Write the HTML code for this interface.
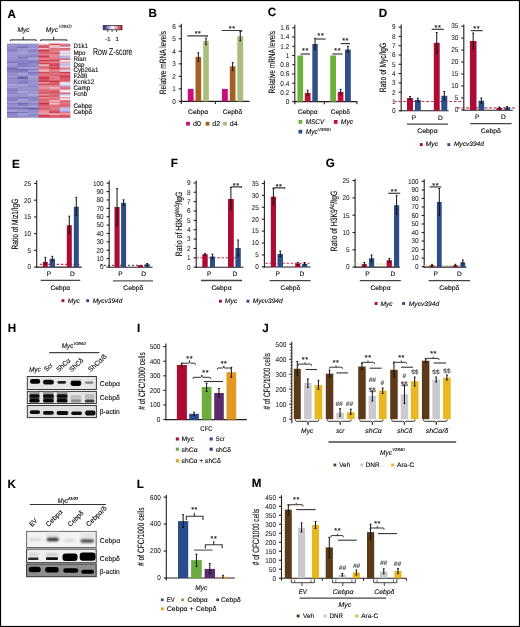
<!DOCTYPE html>
<html><head><meta charset="utf-8"><style>
html,body{margin:0;padding:0;background:#fff;}
body{width:520px;height:627px;overflow:hidden;}
svg{display:block;will-change:transform;text-rendering:geometricPrecision;font-family:"Liberation Sans", sans-serif;}
</style></head><body>
<svg width="520" height="627" viewBox="0 0 520 627">
<rect x="0" y="0" width="520" height="627" fill="#fff"/>
<defs><filter id="bl" x="-30%" y="-60%" width="160%" height="220%"><feGaussianBlur stdDeviation="0.55"/></filter><filter id="bl2" x="-30%" y="-60%" width="160%" height="220%"><feGaussianBlur stdDeviation="0.9"/></filter></defs>
<text x="7.6" y="17.5" font-size="12" font-weight="bold" fill="#000" stroke="#000" stroke-width="0.12" textLength="8.41" lengthAdjust="spacingAndGlyphs">A</text>
<text x="17.4" y="31.8" font-size="6.8" font-style="italic" stroke="#231f20" stroke-width="0.12" textLength="12.2" lengthAdjust="spacingAndGlyphs">Myc</text>
<text x="45.8" y="31.8" font-size="6.8" font-style="italic" stroke="#231f20" stroke-width="0.12" textLength="12.2" lengthAdjust="spacingAndGlyphs">Myc</text>
<text x="58.4" y="28.3" font-size="4.6" font-style="italic" stroke="#231f20" stroke-width="0.05" textLength="13.2" lengthAdjust="spacingAndGlyphs">V394D</text>
<path d="M10.4 41 L10.4 39.9 L36.2 39.9 L36.2 41" stroke="#231f20" stroke-width="1" fill="none"/>
<line x1="23.2" y1="36.8" x2="23.2" y2="39.9" stroke="#231f20" stroke-width="1"/>
<path d="M40.7 41 L40.7 39.9 L66.9 39.9 L66.9 41" stroke="#231f20" stroke-width="1" fill="none"/>
<line x1="53.7" y1="36.8" x2="53.7" y2="39.9" stroke="#231f20" stroke-width="1"/>
<rect x="7" y="43.6" width="11.15" height="1.98" fill="rgb(140,135,199)"/>
<rect x="7" y="45.08" width="11.15" height="1.98" fill="rgb(152,148,206)"/>
<rect x="7" y="46.57" width="11.15" height="1.98" fill="rgb(141,136,199)"/>
<rect x="7" y="48.05" width="11.15" height="1.98" fill="rgb(139,134,199)"/>
<rect x="7" y="49.54" width="11.15" height="1.98" fill="rgb(129,124,193)"/>
<rect x="7" y="51.02" width="11.15" height="1.98" fill="rgb(141,136,200)"/>
<rect x="7" y="52.5" width="11.15" height="1.98" fill="rgb(162,157,211)"/>
<rect x="7" y="53.99" width="11.15" height="1.98" fill="rgb(151,146,205)"/>
<rect x="7" y="55.47" width="11.15" height="1.98" fill="rgb(161,156,211)"/>
<rect x="7" y="56.96" width="11.15" height="1.98" fill="rgb(148,143,204)"/>
<rect x="7" y="58.44" width="11.15" height="1.98" fill="rgb(151,146,205)"/>
<rect x="7" y="59.92" width="11.15" height="1.98" fill="rgb(147,142,203)"/>
<rect x="7" y="61.41" width="11.15" height="1.98" fill="rgb(118,112,187)"/>
<rect x="7" y="62.89" width="11.15" height="1.98" fill="rgb(158,153,209)"/>
<rect x="7" y="64.38" width="11.15" height="1.98" fill="rgb(152,147,206)"/>
<rect x="7" y="65.86" width="11.15" height="1.98" fill="rgb(152,147,206)"/>
<rect x="7" y="67.34" width="11.15" height="1.98" fill="rgb(117,112,186)"/>
<rect x="7" y="68.83" width="11.15" height="1.98" fill="rgb(116,111,186)"/>
<rect x="7" y="70.31" width="11.15" height="1.98" fill="rgb(130,125,194)"/>
<rect x="7" y="71.8" width="11.15" height="1.98" fill="rgb(137,132,197)"/>
<rect x="7" y="73.28" width="11.15" height="1.98" fill="rgb(149,144,204)"/>
<rect x="7" y="74.76" width="11.15" height="1.98" fill="rgb(144,138,201)"/>
<rect x="7" y="76.25" width="11.15" height="1.98" fill="rgb(153,148,206)"/>
<rect x="7" y="77.73" width="11.15" height="1.98" fill="rgb(134,129,196)"/>
<rect x="7" y="79.22" width="11.15" height="1.98" fill="rgb(149,144,204)"/>
<rect x="7" y="80.7" width="11.15" height="1.98" fill="rgb(151,146,205)"/>
<rect x="7" y="82.18" width="11.15" height="1.98" fill="rgb(134,128,196)"/>
<rect x="7" y="83.67" width="11.15" height="1.98" fill="rgb(172,167,217)"/>
<rect x="7" y="85.15" width="11.15" height="1.98" fill="rgb(153,148,206)"/>
<rect x="7" y="86.64" width="11.15" height="1.98" fill="rgb(163,159,212)"/>
<rect x="7" y="88.12" width="11.15" height="1.98" fill="rgb(134,129,196)"/>
<rect x="7" y="89.6" width="11.15" height="1.98" fill="rgb(132,127,195)"/>
<rect x="7" y="91.09" width="11.15" height="1.98" fill="rgb(139,134,198)"/>
<rect x="7" y="92.57" width="11.15" height="1.98" fill="rgb(143,137,200)"/>
<rect x="7" y="94.06" width="11.15" height="1.98" fill="rgb(154,150,207)"/>
<rect x="7" y="95.54" width="11.15" height="1.98" fill="rgb(148,143,204)"/>
<rect x="7" y="97.02" width="11.15" height="1.98" fill="rgb(137,132,197)"/>
<rect x="7" y="98.51" width="11.15" height="1.98" fill="rgb(129,124,193)"/>
<rect x="7" y="99.99" width="11.15" height="1.98" fill="rgb(136,131,197)"/>
<rect x="7" y="101.48" width="11.15" height="1.98" fill="rgb(164,159,212)"/>
<rect x="7" y="102.96" width="11.15" height="1.98" fill="rgb(131,126,194)"/>
<rect x="7" y="104.44" width="11.15" height="1.98" fill="rgb(148,143,204)"/>
<rect x="7" y="105.93" width="11.15" height="1.98" fill="rgb(151,146,205)"/>
<rect x="7" y="107.41" width="11.15" height="1.98" fill="rgb(120,115,188)"/>
<rect x="7" y="108.9" width="11.15" height="1.98" fill="rgb(145,140,202)"/>
<rect x="7" y="110.38" width="11.15" height="1.98" fill="rgb(165,161,213)"/>
<rect x="7" y="111.86" width="11.15" height="1.98" fill="rgb(112,106,184)"/>
<rect x="7" y="113.35" width="11.15" height="1.98" fill="rgb(139,134,199)"/>
<rect x="7" y="114.83" width="11.15" height="1.98" fill="rgb(143,137,200)"/>
<rect x="7" y="116.32" width="11.15" height="1.48" fill="rgb(131,126,194)"/>
<rect x="17.55" y="43.6" width="11.15" height="1.98" fill="rgb(152,147,206)"/>
<rect x="17.55" y="45.08" width="11.15" height="1.98" fill="rgb(143,138,201)"/>
<rect x="17.55" y="46.57" width="11.15" height="1.98" fill="rgb(121,115,188)"/>
<rect x="17.55" y="48.05" width="11.15" height="1.98" fill="rgb(158,153,209)"/>
<rect x="17.55" y="49.54" width="11.15" height="1.98" fill="rgb(155,150,207)"/>
<rect x="17.55" y="51.02" width="11.15" height="1.98" fill="rgb(159,155,210)"/>
<rect x="17.55" y="52.5" width="11.15" height="1.98" fill="rgb(167,163,214)"/>
<rect x="17.55" y="53.99" width="11.15" height="1.98" fill="rgb(150,145,205)"/>
<rect x="17.55" y="55.47" width="11.15" height="1.98" fill="rgb(146,141,202)"/>
<rect x="17.55" y="56.96" width="11.15" height="1.98" fill="rgb(124,118,190)"/>
<rect x="17.55" y="58.44" width="11.15" height="1.98" fill="rgb(154,149,207)"/>
<rect x="17.55" y="59.92" width="11.15" height="1.98" fill="rgb(135,129,196)"/>
<rect x="17.55" y="61.41" width="11.15" height="1.98" fill="rgb(137,132,197)"/>
<rect x="17.55" y="62.89" width="11.15" height="1.98" fill="rgb(124,119,190)"/>
<rect x="17.55" y="64.38" width="11.15" height="1.98" fill="rgb(129,123,193)"/>
<rect x="17.55" y="65.86" width="11.15" height="1.98" fill="rgb(136,131,197)"/>
<rect x="17.55" y="67.34" width="11.15" height="1.98" fill="rgb(165,160,213)"/>
<rect x="17.55" y="68.83" width="11.15" height="1.98" fill="rgb(112,106,183)"/>
<rect x="17.55" y="70.31" width="11.15" height="1.98" fill="rgb(121,115,189)"/>
<rect x="17.55" y="71.8" width="11.15" height="1.98" fill="rgb(148,143,204)"/>
<rect x="17.55" y="73.28" width="11.15" height="1.98" fill="rgb(167,163,214)"/>
<rect x="17.55" y="74.76" width="11.15" height="1.98" fill="rgb(154,149,207)"/>
<rect x="17.55" y="76.25" width="11.15" height="1.98" fill="rgb(114,108,185)"/>
<rect x="17.55" y="77.73" width="11.15" height="1.98" fill="rgb(104,98,179)"/>
<rect x="17.55" y="79.22" width="11.15" height="1.98" fill="rgb(150,145,205)"/>
<rect x="17.55" y="80.7" width="11.15" height="1.98" fill="rgb(133,127,195)"/>
<rect x="17.55" y="82.18" width="11.15" height="1.98" fill="rgb(126,121,192)"/>
<rect x="17.55" y="83.67" width="11.15" height="1.98" fill="rgb(160,155,210)"/>
<rect x="17.55" y="85.15" width="11.15" height="1.98" fill="rgb(162,157,211)"/>
<rect x="17.55" y="86.64" width="11.15" height="1.98" fill="rgb(147,142,203)"/>
<rect x="17.55" y="88.12" width="11.15" height="1.98" fill="rgb(148,143,204)"/>
<rect x="17.55" y="89.6" width="11.15" height="1.98" fill="rgb(151,146,205)"/>
<rect x="17.55" y="91.09" width="11.15" height="1.98" fill="rgb(170,165,215)"/>
<rect x="17.55" y="92.57" width="11.15" height="1.98" fill="rgb(154,149,207)"/>
<rect x="17.55" y="94.06" width="11.15" height="1.98" fill="rgb(153,148,206)"/>
<rect x="17.55" y="95.54" width="11.15" height="1.98" fill="rgb(153,148,206)"/>
<rect x="17.55" y="97.02" width="11.15" height="1.98" fill="rgb(119,114,188)"/>
<rect x="17.55" y="98.51" width="11.15" height="1.98" fill="rgb(165,160,213)"/>
<rect x="17.55" y="99.99" width="11.15" height="1.98" fill="rgb(160,155,210)"/>
<rect x="17.55" y="101.48" width="11.15" height="1.98" fill="rgb(153,148,206)"/>
<rect x="17.55" y="102.96" width="11.15" height="1.98" fill="rgb(113,107,184)"/>
<rect x="17.55" y="104.44" width="11.15" height="1.98" fill="rgb(134,129,196)"/>
<rect x="17.55" y="105.93" width="11.15" height="1.98" fill="rgb(158,153,209)"/>
<rect x="17.55" y="107.41" width="11.15" height="1.98" fill="rgb(115,110,185)"/>
<rect x="17.55" y="108.9" width="11.15" height="1.98" fill="rgb(141,136,200)"/>
<rect x="17.55" y="110.38" width="11.15" height="1.98" fill="rgb(161,156,210)"/>
<rect x="17.55" y="111.86" width="11.15" height="1.98" fill="rgb(123,118,190)"/>
<rect x="17.55" y="113.35" width="11.15" height="1.98" fill="rgb(170,165,216)"/>
<rect x="17.55" y="114.83" width="11.15" height="1.98" fill="rgb(153,148,206)"/>
<rect x="17.55" y="116.32" width="11.15" height="1.48" fill="rgb(142,137,200)"/>
<rect x="28.1" y="43.6" width="11.15" height="1.98" fill="rgb(149,145,204)"/>
<rect x="28.1" y="45.08" width="11.15" height="1.98" fill="rgb(155,150,207)"/>
<rect x="28.1" y="46.57" width="11.15" height="1.98" fill="rgb(146,141,202)"/>
<rect x="28.1" y="48.05" width="11.15" height="1.98" fill="rgb(163,158,212)"/>
<rect x="28.1" y="49.54" width="11.15" height="1.98" fill="rgb(134,128,196)"/>
<rect x="28.1" y="51.02" width="11.15" height="1.98" fill="rgb(138,132,198)"/>
<rect x="28.1" y="52.5" width="11.15" height="1.98" fill="rgb(161,156,211)"/>
<rect x="28.1" y="53.99" width="11.15" height="1.98" fill="rgb(145,140,202)"/>
<rect x="28.1" y="55.47" width="11.15" height="1.98" fill="rgb(130,125,194)"/>
<rect x="28.1" y="56.96" width="11.15" height="1.98" fill="rgb(159,155,210)"/>
<rect x="28.1" y="58.44" width="11.15" height="1.98" fill="rgb(168,163,214)"/>
<rect x="28.1" y="59.92" width="11.15" height="1.98" fill="rgb(137,132,197)"/>
<rect x="28.1" y="61.41" width="11.15" height="1.98" fill="rgb(122,117,189)"/>
<rect x="28.1" y="62.89" width="11.15" height="1.98" fill="rgb(142,137,200)"/>
<rect x="28.1" y="64.38" width="11.15" height="1.98" fill="rgb(142,137,200)"/>
<rect x="28.1" y="65.86" width="11.15" height="1.98" fill="rgb(140,134,199)"/>
<rect x="28.1" y="67.34" width="11.15" height="1.98" fill="rgb(167,162,214)"/>
<rect x="28.1" y="68.83" width="11.15" height="1.98" fill="rgb(128,122,192)"/>
<rect x="28.1" y="70.31" width="11.15" height="1.98" fill="rgb(164,160,213)"/>
<rect x="28.1" y="71.8" width="11.15" height="1.98" fill="rgb(124,119,190)"/>
<rect x="28.1" y="73.28" width="11.15" height="1.98" fill="rgb(132,126,194)"/>
<rect x="28.1" y="74.76" width="11.15" height="1.98" fill="rgb(154,150,207)"/>
<rect x="28.1" y="76.25" width="11.15" height="1.98" fill="rgb(162,158,211)"/>
<rect x="28.1" y="77.73" width="11.15" height="1.98" fill="rgb(158,153,209)"/>
<rect x="28.1" y="79.22" width="11.15" height="1.98" fill="rgb(150,145,204)"/>
<rect x="28.1" y="80.7" width="11.15" height="1.98" fill="rgb(147,142,203)"/>
<rect x="28.1" y="82.18" width="11.15" height="1.98" fill="rgb(147,142,203)"/>
<rect x="28.1" y="83.67" width="11.15" height="1.98" fill="rgb(153,149,206)"/>
<rect x="28.1" y="85.15" width="11.15" height="1.98" fill="rgb(141,136,200)"/>
<rect x="28.1" y="86.64" width="11.15" height="1.98" fill="rgb(149,144,204)"/>
<rect x="28.1" y="88.12" width="11.15" height="1.98" fill="rgb(153,149,206)"/>
<rect x="28.1" y="89.6" width="11.15" height="1.98" fill="rgb(144,139,201)"/>
<rect x="28.1" y="91.09" width="11.15" height="1.98" fill="rgb(157,152,208)"/>
<rect x="28.1" y="92.57" width="11.15" height="1.98" fill="rgb(153,148,206)"/>
<rect x="28.1" y="94.06" width="11.15" height="1.98" fill="rgb(176,172,219)"/>
<rect x="28.1" y="95.54" width="11.15" height="1.98" fill="rgb(149,145,204)"/>
<rect x="28.1" y="97.02" width="11.15" height="1.98" fill="rgb(137,132,198)"/>
<rect x="28.1" y="98.51" width="11.15" height="1.98" fill="rgb(138,133,198)"/>
<rect x="28.1" y="99.99" width="11.15" height="1.98" fill="rgb(144,139,201)"/>
<rect x="28.1" y="101.48" width="11.15" height="1.98" fill="rgb(159,154,210)"/>
<rect x="28.1" y="102.96" width="11.15" height="1.98" fill="rgb(139,134,198)"/>
<rect x="28.1" y="104.44" width="11.15" height="1.98" fill="rgb(150,145,205)"/>
<rect x="28.1" y="105.93" width="11.15" height="1.98" fill="rgb(174,169,218)"/>
<rect x="28.1" y="107.41" width="11.15" height="1.98" fill="rgb(103,97,179)"/>
<rect x="28.1" y="108.9" width="11.15" height="1.98" fill="rgb(126,121,191)"/>
<rect x="28.1" y="110.38" width="11.15" height="1.98" fill="rgb(148,143,204)"/>
<rect x="28.1" y="111.86" width="11.15" height="1.98" fill="rgb(151,146,205)"/>
<rect x="28.1" y="113.35" width="11.15" height="1.98" fill="rgb(148,143,204)"/>
<rect x="28.1" y="114.83" width="11.15" height="1.98" fill="rgb(137,132,198)"/>
<rect x="28.1" y="116.32" width="11.15" height="1.48" fill="rgb(155,150,207)"/>
<rect x="38.65" y="43.6" width="11.15" height="1.98" fill="rgb(240,189,195)"/>
<rect x="38.65" y="45.08" width="11.15" height="1.98" fill="rgb(215,90,105)"/>
<rect x="38.65" y="46.57" width="11.15" height="1.98" fill="rgb(215,89,104)"/>
<rect x="38.65" y="48.05" width="11.15" height="1.98" fill="rgb(240,189,195)"/>
<rect x="38.65" y="49.54" width="11.15" height="1.98" fill="rgb(205,50,68)"/>
<rect x="38.65" y="51.02" width="11.15" height="1.98" fill="rgb(215,91,106)"/>
<rect x="38.65" y="52.5" width="11.15" height="1.98" fill="rgb(219,104,117)"/>
<rect x="38.65" y="53.99" width="11.15" height="1.98" fill="rgb(226,133,144)"/>
<rect x="38.65" y="55.47" width="11.15" height="1.98" fill="rgb(206,56,73)"/>
<rect x="38.65" y="56.96" width="11.15" height="1.98" fill="rgb(216,95,109)"/>
<rect x="38.65" y="58.44" width="11.15" height="1.98" fill="rgb(227,137,148)"/>
<rect x="38.65" y="59.92" width="11.15" height="1.98" fill="rgb(205,50,68)"/>
<rect x="38.65" y="61.41" width="11.15" height="1.98" fill="rgb(224,125,137)"/>
<rect x="38.65" y="62.89" width="11.15" height="1.98" fill="rgb(208,62,79)"/>
<rect x="38.65" y="64.38" width="11.15" height="1.98" fill="rgb(240,189,195)"/>
<rect x="38.65" y="65.86" width="11.15" height="1.98" fill="rgb(220,111,124)"/>
<rect x="38.65" y="67.34" width="11.15" height="1.98" fill="rgb(218,103,117)"/>
<rect x="38.65" y="68.83" width="11.15" height="1.98" fill="rgb(230,150,160)"/>
<rect x="38.65" y="70.31" width="11.15" height="1.98" fill="rgb(239,186,192)"/>
<rect x="38.65" y="71.8" width="11.15" height="1.98" fill="rgb(211,72,88)"/>
<rect x="38.65" y="73.28" width="11.15" height="1.98" fill="rgb(220,109,122)"/>
<rect x="38.65" y="74.76" width="11.15" height="1.98" fill="rgb(224,126,138)"/>
<rect x="38.65" y="76.25" width="11.15" height="1.98" fill="rgb(208,61,78)"/>
<rect x="38.65" y="77.73" width="11.15" height="1.98" fill="rgb(208,61,78)"/>
<rect x="38.65" y="79.22" width="11.15" height="1.98" fill="rgb(211,76,91)"/>
<rect x="38.65" y="80.7" width="11.15" height="1.98" fill="rgb(208,63,80)"/>
<rect x="38.65" y="82.18" width="11.15" height="1.98" fill="rgb(230,148,158)"/>
<rect x="38.65" y="83.67" width="11.15" height="1.98" fill="rgb(212,78,94)"/>
<rect x="38.65" y="85.15" width="11.15" height="1.98" fill="rgb(225,128,139)"/>
<rect x="38.65" y="86.64" width="11.15" height="1.98" fill="rgb(231,152,162)"/>
<rect x="38.65" y="88.12" width="11.15" height="1.98" fill="rgb(226,134,145)"/>
<rect x="38.65" y="89.6" width="11.15" height="1.98" fill="rgb(218,100,114)"/>
<rect x="38.65" y="91.09" width="11.15" height="1.98" fill="rgb(218,103,116)"/>
<rect x="38.65" y="92.57" width="11.15" height="1.98" fill="rgb(215,88,103)"/>
<rect x="38.65" y="94.06" width="11.15" height="1.98" fill="rgb(230,149,159)"/>
<rect x="38.65" y="95.54" width="11.15" height="1.98" fill="rgb(212,76,92)"/>
<rect x="38.65" y="97.02" width="11.15" height="1.98" fill="rgb(230,148,158)"/>
<rect x="38.65" y="98.51" width="11.15" height="1.98" fill="rgb(218,100,114)"/>
<rect x="38.65" y="99.99" width="11.15" height="1.98" fill="rgb(220,109,122)"/>
<rect x="38.65" y="101.48" width="11.15" height="1.98" fill="rgb(220,109,122)"/>
<rect x="38.65" y="102.96" width="11.15" height="1.98" fill="rgb(205,50,68)"/>
<rect x="38.65" y="104.44" width="11.15" height="1.98" fill="rgb(216,94,109)"/>
<rect x="38.65" y="105.93" width="11.15" height="1.98" fill="rgb(221,115,127)"/>
<rect x="38.65" y="107.41" width="11.15" height="1.98" fill="rgb(215,88,103)"/>
<rect x="38.65" y="108.9" width="11.15" height="1.98" fill="rgb(220,108,121)"/>
<rect x="38.65" y="110.38" width="11.15" height="1.98" fill="rgb(229,144,154)"/>
<rect x="38.65" y="111.86" width="11.15" height="1.98" fill="rgb(230,149,159)"/>
<rect x="38.65" y="113.35" width="11.15" height="1.98" fill="rgb(231,152,162)"/>
<rect x="38.65" y="114.83" width="11.15" height="1.98" fill="rgb(205,51,69)"/>
<rect x="38.65" y="116.32" width="11.15" height="1.48" fill="rgb(211,74,90)"/>
<rect x="49.2" y="43.6" width="11.15" height="1.98" fill="rgb(210,70,86)"/>
<rect x="49.2" y="45.08" width="11.15" height="1.98" fill="rgb(240,189,195)"/>
<rect x="49.2" y="46.57" width="11.15" height="1.98" fill="rgb(240,189,195)"/>
<rect x="49.2" y="48.05" width="11.15" height="1.98" fill="rgb(221,112,125)"/>
<rect x="49.2" y="49.54" width="11.15" height="1.98" fill="rgb(223,121,133)"/>
<rect x="49.2" y="51.02" width="11.15" height="1.98" fill="rgb(226,135,146)"/>
<rect x="49.2" y="52.5" width="11.15" height="1.98" fill="rgb(215,89,104)"/>
<rect x="49.2" y="53.99" width="11.15" height="1.98" fill="rgb(227,137,148)"/>
<rect x="49.2" y="55.47" width="11.15" height="1.98" fill="rgb(227,135,146)"/>
<rect x="49.2" y="56.96" width="11.15" height="1.98" fill="rgb(225,129,140)"/>
<rect x="49.2" y="58.44" width="11.15" height="1.98" fill="rgb(220,110,123)"/>
<rect x="49.2" y="59.92" width="11.15" height="1.98" fill="rgb(210,71,87)"/>
<rect x="49.2" y="61.41" width="11.15" height="1.98" fill="rgb(226,132,144)"/>
<rect x="49.2" y="62.89" width="11.15" height="1.98" fill="rgb(215,89,104)"/>
<rect x="49.2" y="64.38" width="11.15" height="1.98" fill="rgb(208,61,78)"/>
<rect x="49.2" y="65.86" width="11.15" height="1.98" fill="rgb(218,102,116)"/>
<rect x="49.2" y="67.34" width="11.15" height="1.98" fill="rgb(205,50,68)"/>
<rect x="49.2" y="68.83" width="11.15" height="1.98" fill="rgb(221,115,128)"/>
<rect x="49.2" y="70.31" width="11.15" height="1.98" fill="rgb(224,127,138)"/>
<rect x="49.2" y="71.8" width="11.15" height="1.98" fill="rgb(217,97,112)"/>
<rect x="49.2" y="73.28" width="11.15" height="1.98" fill="rgb(221,114,127)"/>
<rect x="49.2" y="74.76" width="11.15" height="1.98" fill="rgb(216,92,107)"/>
<rect x="49.2" y="76.25" width="11.15" height="1.98" fill="rgb(224,125,137)"/>
<rect x="49.2" y="77.73" width="11.15" height="1.98" fill="rgb(221,115,128)"/>
<rect x="49.2" y="79.22" width="11.15" height="1.98" fill="rgb(222,119,131)"/>
<rect x="49.2" y="80.7" width="11.15" height="1.98" fill="rgb(205,50,68)"/>
<rect x="49.2" y="82.18" width="11.15" height="1.98" fill="rgb(217,97,111)"/>
<rect x="49.2" y="83.67" width="11.15" height="1.98" fill="rgb(216,92,106)"/>
<rect x="49.2" y="85.15" width="11.15" height="1.98" fill="rgb(223,119,131)"/>
<rect x="49.2" y="86.64" width="11.15" height="1.98" fill="rgb(237,176,184)"/>
<rect x="49.2" y="88.12" width="11.15" height="1.98" fill="rgb(233,161,169)"/>
<rect x="49.2" y="89.6" width="11.15" height="1.98" fill="rgb(218,102,116)"/>
<rect x="49.2" y="91.09" width="11.15" height="1.98" fill="rgb(212,79,95)"/>
<rect x="49.2" y="92.57" width="11.15" height="1.98" fill="rgb(218,103,117)"/>
<rect x="49.2" y="94.06" width="11.15" height="1.98" fill="rgb(219,104,118)"/>
<rect x="49.2" y="95.54" width="11.15" height="1.98" fill="rgb(218,100,114)"/>
<rect x="49.2" y="97.02" width="11.15" height="1.98" fill="rgb(226,132,143)"/>
<rect x="49.2" y="98.51" width="11.15" height="1.98" fill="rgb(220,108,122)"/>
<rect x="49.2" y="99.99" width="11.15" height="1.98" fill="rgb(239,183,190)"/>
<rect x="49.2" y="101.48" width="11.15" height="1.98" fill="rgb(227,139,149)"/>
<rect x="49.2" y="102.96" width="11.15" height="1.98" fill="rgb(240,189,195)"/>
<rect x="49.2" y="104.44" width="11.15" height="1.98" fill="rgb(223,120,132)"/>
<rect x="49.2" y="105.93" width="11.15" height="1.98" fill="rgb(219,104,117)"/>
<rect x="49.2" y="107.41" width="11.15" height="1.98" fill="rgb(223,121,133)"/>
<rect x="49.2" y="108.9" width="11.15" height="1.98" fill="rgb(221,115,128)"/>
<rect x="49.2" y="110.38" width="11.15" height="1.98" fill="rgb(214,85,100)"/>
<rect x="49.2" y="111.86" width="11.15" height="1.98" fill="rgb(209,65,81)"/>
<rect x="49.2" y="113.35" width="11.15" height="1.98" fill="rgb(240,189,195)"/>
<rect x="49.2" y="114.83" width="11.15" height="1.98" fill="rgb(216,94,108)"/>
<rect x="49.2" y="116.32" width="11.15" height="1.48" fill="rgb(212,77,93)"/>
<rect x="59.75" y="43.6" width="10.55" height="1.98" fill="rgb(223,120,132)"/>
<rect x="59.75" y="45.08" width="10.55" height="1.98" fill="rgb(218,103,117)"/>
<rect x="59.75" y="46.57" width="10.55" height="1.98" fill="rgb(226,226,245)"/>
<rect x="59.75" y="48.05" width="10.55" height="1.98" fill="rgb(216,94,108)"/>
<rect x="59.75" y="49.54" width="10.55" height="1.98" fill="rgb(230,150,160)"/>
<rect x="59.75" y="51.02" width="10.55" height="1.98" fill="rgb(245,235,240)"/>
<rect x="59.75" y="52.5" width="10.55" height="1.98" fill="rgb(204,204,237)"/>
<rect x="59.75" y="53.99" width="10.55" height="1.98" fill="rgb(245,235,240)"/>
<rect x="59.75" y="55.47" width="10.55" height="1.98" fill="rgb(180,180,229)"/>
<rect x="59.75" y="56.96" width="10.55" height="1.98" fill="rgb(183,183,230)"/>
<rect x="59.75" y="58.44" width="10.55" height="1.98" fill="rgb(217,97,111)"/>
<rect x="59.75" y="59.92" width="10.55" height="1.98" fill="rgb(245,235,240)"/>
<rect x="59.75" y="61.41" width="10.55" height="1.98" fill="rgb(235,167,175)"/>
<rect x="59.75" y="62.89" width="10.55" height="1.98" fill="rgb(193,193,233)"/>
<rect x="59.75" y="64.38" width="10.55" height="1.98" fill="rgb(186,186,231)"/>
<rect x="59.75" y="65.86" width="10.55" height="1.98" fill="rgb(218,218,242)"/>
<rect x="59.75" y="67.34" width="10.55" height="1.98" fill="rgb(225,129,141)"/>
<rect x="59.75" y="68.83" width="10.55" height="1.98" fill="rgb(230,150,159)"/>
<rect x="59.75" y="70.31" width="10.55" height="1.98" fill="rgb(223,223,244)"/>
<rect x="59.75" y="71.8" width="10.55" height="1.98" fill="rgb(206,55,72)"/>
<rect x="59.75" y="73.28" width="10.55" height="1.98" fill="rgb(222,118,130)"/>
<rect x="59.75" y="74.76" width="10.55" height="1.98" fill="rgb(213,81,96)"/>
<rect x="59.75" y="76.25" width="10.55" height="1.98" fill="rgb(205,50,68)"/>
<rect x="59.75" y="77.73" width="10.55" height="1.98" fill="rgb(219,103,117)"/>
<rect x="59.75" y="79.22" width="10.55" height="1.98" fill="rgb(211,72,88)"/>
<rect x="59.75" y="80.7" width="10.55" height="1.98" fill="rgb(226,132,143)"/>
<rect x="59.75" y="82.18" width="10.55" height="1.98" fill="rgb(218,218,242)"/>
<rect x="59.75" y="83.67" width="10.55" height="1.98" fill="rgb(245,235,240)"/>
<rect x="59.75" y="85.15" width="10.55" height="1.98" fill="rgb(175,175,227)"/>
<rect x="59.75" y="86.64" width="10.55" height="1.98" fill="rgb(223,121,134)"/>
<rect x="59.75" y="88.12" width="10.55" height="1.98" fill="rgb(218,103,117)"/>
<rect x="59.75" y="89.6" width="10.55" height="1.98" fill="rgb(245,235,240)"/>
<rect x="59.75" y="91.09" width="10.55" height="1.98" fill="rgb(245,235,240)"/>
<rect x="59.75" y="92.57" width="10.55" height="1.98" fill="rgb(216,93,107)"/>
<rect x="59.75" y="94.06" width="10.55" height="1.98" fill="rgb(199,199,235)"/>
<rect x="59.75" y="95.54" width="10.55" height="1.98" fill="rgb(245,235,240)"/>
<rect x="59.75" y="97.02" width="10.55" height="1.98" fill="rgb(232,156,165)"/>
<rect x="59.75" y="98.51" width="10.55" height="1.98" fill="rgb(245,235,240)"/>
<rect x="59.75" y="99.99" width="10.55" height="1.98" fill="rgb(220,109,122)"/>
<rect x="59.75" y="101.48" width="10.55" height="1.98" fill="rgb(221,115,127)"/>
<rect x="59.75" y="102.96" width="10.55" height="1.98" fill="rgb(222,117,129)"/>
<rect x="59.75" y="104.44" width="10.55" height="1.98" fill="rgb(216,94,109)"/>
<rect x="59.75" y="105.93" width="10.55" height="1.98" fill="rgb(222,115,128)"/>
<rect x="59.75" y="107.41" width="10.55" height="1.98" fill="rgb(187,187,231)"/>
<rect x="59.75" y="108.9" width="10.55" height="1.98" fill="rgb(196,196,234)"/>
<rect x="59.75" y="110.38" width="10.55" height="1.98" fill="rgb(171,171,226)"/>
<rect x="59.75" y="111.86" width="10.55" height="1.98" fill="rgb(223,120,133)"/>
<rect x="59.75" y="113.35" width="10.55" height="1.98" fill="rgb(232,158,167)"/>
<rect x="59.75" y="114.83" width="10.55" height="1.98" fill="rgb(215,88,103)"/>
<rect x="59.75" y="116.32" width="10.55" height="1.48" fill="rgb(211,73,89)"/>
<text x="73.4" y="48.2" font-size="6.6" stroke="#231f20" stroke-width="0.12" textLength="14.64" lengthAdjust="spacingAndGlyphs">D1k1</text>
<text x="73.4" y="54.6" font-size="6.6" stroke="#231f20" stroke-width="0.12" textLength="12.2" lengthAdjust="spacingAndGlyphs">Mpo</text>
<text x="73.4" y="60.5" font-size="6.6" stroke="#231f20" stroke-width="0.12" textLength="12.9" lengthAdjust="spacingAndGlyphs">Rian</text>
<text x="73.4" y="66.5" font-size="6.6" stroke="#231f20" stroke-width="0.12" textLength="11.15" lengthAdjust="spacingAndGlyphs">Dsp</text>
<text x="73.4" y="72.3" font-size="6.6" stroke="#231f20" stroke-width="0.12" textLength="25.1" lengthAdjust="spacingAndGlyphs">Cyp26a1</text>
<text x="73.4" y="78" font-size="6.6" stroke="#231f20" stroke-width="0.12" textLength="13.94" lengthAdjust="spacingAndGlyphs">Fzd8</text>
<text x="73.4" y="83.7" font-size="6.6" stroke="#231f20" stroke-width="0.12" textLength="20.91" lengthAdjust="spacingAndGlyphs">Kcnk12</text>
<text x="73.4" y="89.6" font-size="6.6" stroke="#231f20" stroke-width="0.12" textLength="16.73" lengthAdjust="spacingAndGlyphs">Camp</text>
<text x="73.4" y="95.5" font-size="6.6" stroke="#231f20" stroke-width="0.12" textLength="13.94" lengthAdjust="spacingAndGlyphs">Fcnb</text>
<text x="73.4" y="107.5" font-size="6.6" stroke="#231f20" stroke-width="0.12" textLength="18.61" lengthAdjust="spacingAndGlyphs">Cebp&#945;</text>
<text x="73.4" y="113.5" font-size="6.6" stroke="#231f20" stroke-width="0.12" textLength="18.48" lengthAdjust="spacingAndGlyphs">Cebp&#948;</text>
<defs><linearGradient id="zs" x1="0" x2="1" y1="0" y2="0"><stop offset="0" stop-color="#1a1a8c"/><stop offset="0.5" stop-color="#ffffff"/><stop offset="1" stop-color="#c8102e"/></linearGradient></defs>
<rect x="103.2" y="25.4" width="18.8" height="4.4" fill="url(#zs)" stroke="#333" stroke-width="0.8"/>
<line x1="107.8" y1="29.8" x2="107.8" y2="32" stroke="#231f20" stroke-width="0.8"/>
<line x1="112.1" y1="29.8" x2="112.1" y2="32" stroke="#231f20" stroke-width="0.8"/>
<line x1="116.6" y1="29.8" x2="116.6" y2="32" stroke="#231f20" stroke-width="0.8"/>
<text x="105.3" y="41.4" font-size="5.8" stroke="#231f20" stroke-width="0.12">-1</text>
<text x="115.6" y="41.4" font-size="5.8" stroke="#231f20" stroke-width="0.12">1</text>
<text x="93.1" y="54.8" font-size="10" stroke="#231f20" stroke-width="0.05" textLength="39.4" lengthAdjust="spacingAndGlyphs">Row Z-score</text>
<text x="148.4" y="16.8" font-size="12" font-weight="bold" fill="#000" stroke="#000" stroke-width="0.12" textLength="8.41" lengthAdjust="spacingAndGlyphs">B</text>
<line x1="181.3" y1="23.8" x2="181.3" y2="101.95" stroke="#231f20" stroke-width="1.1"/>
<line x1="178.7" y1="101.4" x2="181.3" y2="101.4" stroke="#231f20" stroke-width="1.1"/>
<text x="175.8" y="103.78" font-size="7" text-anchor="end" fill="#2a2a2a" stroke="#2a2a2a" stroke-width="0.08" textLength="3.58" lengthAdjust="spacingAndGlyphs">0</text>
<line x1="178.7" y1="88.87" x2="181.3" y2="88.87" stroke="#231f20" stroke-width="1.1"/>
<text x="175.8" y="91.25" font-size="7" text-anchor="end" fill="#2a2a2a" stroke="#2a2a2a" stroke-width="0.08" textLength="3.58" lengthAdjust="spacingAndGlyphs">1</text>
<line x1="178.7" y1="76.34" x2="181.3" y2="76.34" stroke="#231f20" stroke-width="1.1"/>
<text x="175.8" y="78.72" font-size="7" text-anchor="end" fill="#2a2a2a" stroke="#2a2a2a" stroke-width="0.08" textLength="3.58" lengthAdjust="spacingAndGlyphs">2</text>
<line x1="178.7" y1="63.81" x2="181.3" y2="63.81" stroke="#231f20" stroke-width="1.1"/>
<text x="175.8" y="66.19" font-size="7" text-anchor="end" fill="#2a2a2a" stroke="#2a2a2a" stroke-width="0.08" textLength="3.58" lengthAdjust="spacingAndGlyphs">3</text>
<line x1="178.7" y1="51.28" x2="181.3" y2="51.28" stroke="#231f20" stroke-width="1.1"/>
<text x="175.8" y="53.66" font-size="7" text-anchor="end" fill="#2a2a2a" stroke="#2a2a2a" stroke-width="0.08" textLength="3.58" lengthAdjust="spacingAndGlyphs">4</text>
<line x1="178.7" y1="38.75" x2="181.3" y2="38.75" stroke="#231f20" stroke-width="1.1"/>
<text x="175.8" y="41.13" font-size="7" text-anchor="end" fill="#2a2a2a" stroke="#2a2a2a" stroke-width="0.08" textLength="3.58" lengthAdjust="spacingAndGlyphs">5</text>
<line x1="178.7" y1="26.22" x2="181.3" y2="26.22" stroke="#231f20" stroke-width="1.1"/>
<text x="175.8" y="28.6" font-size="7" text-anchor="end" fill="#2a2a2a" stroke="#2a2a2a" stroke-width="0.08" textLength="3.58" lengthAdjust="spacingAndGlyphs">6</text>
<line x1="180.75" y1="101.4" x2="249.5" y2="101.4" stroke="#231f20" stroke-width="1.1"/>
<line x1="181.3" y1="101.4" x2="181.3" y2="104" stroke="#231f20" stroke-width="1.1"/>
<line x1="215.4" y1="101.4" x2="215.4" y2="104" stroke="#231f20" stroke-width="1.1"/>
<text x="166.2" y="62.6" font-size="9.2" text-anchor="middle" stroke="#231f20" stroke-width="0.12" textLength="63.3" lengthAdjust="spacingAndGlyphs" transform="rotate(-90 166.2 62.6)">Relative mRNA levels</text>
<rect x="187.8" y="88.87" width="5.8" height="12.53" fill="#c80d7d"/>
<rect x="195.5" y="56.92" width="5.7" height="44.48" fill="#a65f22"/>
<rect x="203.2" y="40.88" width="5.6" height="60.52" fill="#a9bd7c"/>
<rect x="221.9" y="88.87" width="5.9" height="12.53" fill="#c80d7d"/>
<rect x="229.8" y="66.32" width="5.7" height="35.08" fill="#a65f22"/>
<rect x="237.3" y="36.24" width="5.9" height="65.16" fill="#a9bd7c"/>
<line x1="198.35" y1="52.8" x2="198.35" y2="61.2" stroke="#111" stroke-width="1"/>
<line x1="197.45" y1="52.8" x2="199.25" y2="52.8" stroke="#111" stroke-width="1"/>
<line x1="197.45" y1="61.2" x2="199.25" y2="61.2" stroke="#111" stroke-width="1"/>
<line x1="206" y1="38.2" x2="206" y2="44.6" stroke="#111" stroke-width="1"/>
<line x1="205.1" y1="38.2" x2="206.9" y2="38.2" stroke="#111" stroke-width="1"/>
<line x1="205.1" y1="44.6" x2="206.9" y2="44.6" stroke="#111" stroke-width="1"/>
<line x1="232.65" y1="62.6" x2="232.65" y2="70.5" stroke="#111" stroke-width="1"/>
<line x1="231.75" y1="62.6" x2="233.55" y2="62.6" stroke="#111" stroke-width="1"/>
<line x1="231.75" y1="70.5" x2="233.55" y2="70.5" stroke="#111" stroke-width="1"/>
<line x1="240.25" y1="31.2" x2="240.25" y2="40.8" stroke="#111" stroke-width="1"/>
<line x1="239.35" y1="31.2" x2="241.15" y2="31.2" stroke="#111" stroke-width="1"/>
<line x1="239.35" y1="40.8" x2="241.15" y2="40.8" stroke="#111" stroke-width="1"/>
<path d="M187.3 35.8 L187.3 35.8 L207.3 35.8 L207.3 37" stroke="#3a3a3a" stroke-width="1.2" fill="none"/>
<text x="198.1" y="36.2" font-size="7.3" text-anchor="middle" fill="#222" stroke="#222" stroke-width="0.18" letter-spacing="0.6">**</text>
<path d="M221.6 30.5 L221.6 30.5 L241.5 30.5 L241.5 31.7" stroke="#3a3a3a" stroke-width="1.2" fill="none"/>
<text x="232.3" y="31" font-size="7.3" text-anchor="middle" fill="#222" stroke="#222" stroke-width="0.18" letter-spacing="0.6">**</text>
<text x="198.2" y="113.6" font-size="6.6" text-anchor="middle" stroke="#231f20" stroke-width="0.12" textLength="20.2" lengthAdjust="spacingAndGlyphs">Cebp&#945;</text>
<text x="232.5" y="113.6" font-size="6.6" text-anchor="middle" stroke="#231f20" stroke-width="0.12" textLength="19.4" lengthAdjust="spacingAndGlyphs">Cepb&#948;</text>
<rect x="186.1" y="121.8" width="3.8" height="3.8" fill="#c80d7d"/>
<text x="193" y="125.7" font-size="7" stroke="#231f20" stroke-width="0.12" textLength="7.9" lengthAdjust="spacingAndGlyphs">d0</text>
<rect x="205.6" y="121.8" width="3.8" height="3.8" fill="#a65f22"/>
<text x="212.3" y="125.7" font-size="7" stroke="#231f20" stroke-width="0.12" textLength="7.9" lengthAdjust="spacingAndGlyphs">d2</text>
<rect x="223.1" y="121.8" width="3.8" height="3.8" fill="#a9bd7c"/>
<text x="229.8" y="125.7" font-size="7" stroke="#231f20" stroke-width="0.12" textLength="7.9" lengthAdjust="spacingAndGlyphs">d4</text>
<text x="267.7" y="16.4" font-size="12" font-weight="bold" fill="#000" stroke="#000" stroke-width="0.12" textLength="8.41" lengthAdjust="spacingAndGlyphs">C</text>
<line x1="294.8" y1="24.8" x2="294.8" y2="102.15" stroke="#231f20" stroke-width="1.1"/>
<line x1="292.2" y1="101.6" x2="294.8" y2="101.6" stroke="#231f20" stroke-width="1.1"/>
<text x="289.3" y="103.98" font-size="7" text-anchor="end" fill="#2a2a2a" stroke="#2a2a2a" stroke-width="0.08" textLength="3.58" lengthAdjust="spacingAndGlyphs">0</text>
<line x1="292.2" y1="92.38" x2="294.8" y2="92.38" stroke="#231f20" stroke-width="1.1"/>
<text x="289.3" y="94.76" font-size="7" text-anchor="end" fill="#2a2a2a" stroke="#2a2a2a" stroke-width="0.08" textLength="8.95" lengthAdjust="spacingAndGlyphs">0.2</text>
<line x1="292.2" y1="83.16" x2="294.8" y2="83.16" stroke="#231f20" stroke-width="1.1"/>
<text x="289.3" y="85.54" font-size="7" text-anchor="end" fill="#2a2a2a" stroke="#2a2a2a" stroke-width="0.08" textLength="8.95" lengthAdjust="spacingAndGlyphs">0.4</text>
<line x1="292.2" y1="73.94" x2="294.8" y2="73.94" stroke="#231f20" stroke-width="1.1"/>
<text x="289.3" y="76.32" font-size="7" text-anchor="end" fill="#2a2a2a" stroke="#2a2a2a" stroke-width="0.08" textLength="8.95" lengthAdjust="spacingAndGlyphs">0.6</text>
<line x1="292.2" y1="64.72" x2="294.8" y2="64.72" stroke="#231f20" stroke-width="1.1"/>
<text x="289.3" y="67.1" font-size="7" text-anchor="end" fill="#2a2a2a" stroke="#2a2a2a" stroke-width="0.08" textLength="8.95" lengthAdjust="spacingAndGlyphs">0.8</text>
<line x1="292.2" y1="55.5" x2="294.8" y2="55.5" stroke="#231f20" stroke-width="1.1"/>
<text x="289.3" y="57.88" font-size="7" text-anchor="end" fill="#2a2a2a" stroke="#2a2a2a" stroke-width="0.08" textLength="3.58" lengthAdjust="spacingAndGlyphs">1</text>
<line x1="292.2" y1="46.28" x2="294.8" y2="46.28" stroke="#231f20" stroke-width="1.1"/>
<text x="289.3" y="48.66" font-size="7" text-anchor="end" fill="#2a2a2a" stroke="#2a2a2a" stroke-width="0.08" textLength="8.95" lengthAdjust="spacingAndGlyphs">1.2</text>
<line x1="292.2" y1="37.06" x2="294.8" y2="37.06" stroke="#231f20" stroke-width="1.1"/>
<text x="289.3" y="39.44" font-size="7" text-anchor="end" fill="#2a2a2a" stroke="#2a2a2a" stroke-width="0.08" textLength="8.95" lengthAdjust="spacingAndGlyphs">1.4</text>
<line x1="292.2" y1="27.84" x2="294.8" y2="27.84" stroke="#231f20" stroke-width="1.1"/>
<text x="289.3" y="30.22" font-size="7" text-anchor="end" fill="#2a2a2a" stroke="#2a2a2a" stroke-width="0.08" textLength="8.95" lengthAdjust="spacingAndGlyphs">1.6</text>
<line x1="294.25" y1="101.6" x2="357" y2="101.6" stroke="#231f20" stroke-width="1.1"/>
<line x1="294.8" y1="101.6" x2="294.8" y2="104.2" stroke="#231f20" stroke-width="1.1"/>
<line x1="324.3" y1="101.6" x2="324.3" y2="104.2" stroke="#231f20" stroke-width="1.1"/>
<line x1="357" y1="101.6" x2="357" y2="104.2" stroke="#231f20" stroke-width="1.1"/>
<text x="275.1" y="62.3" font-size="9.2" text-anchor="middle" stroke="#231f20" stroke-width="0.12" textLength="62.5" lengthAdjust="spacingAndGlyphs" transform="rotate(-90 275.1 62.3)">Relative mRNA levels</text>
<rect x="297.4" y="55.5" width="5.7" height="46.1" fill="#6db03d"/>
<rect x="304.8" y="92.84" width="5.8" height="8.76" fill="#c0103a"/>
<rect x="312.3" y="43.97" width="5.5" height="57.62" fill="#2f5088"/>
<rect x="330.2" y="55.5" width="5.8" height="46.1" fill="#6db03d"/>
<rect x="337.7" y="91.92" width="5.8" height="9.68" fill="#c0103a"/>
<rect x="345" y="49.51" width="5.8" height="52.09" fill="#2f5088"/>
<line x1="307.7" y1="90.3" x2="307.7" y2="95.5" stroke="#111" stroke-width="1"/>
<line x1="306.8" y1="90.3" x2="308.6" y2="90.3" stroke="#111" stroke-width="1"/>
<line x1="306.8" y1="95.5" x2="308.6" y2="95.5" stroke="#111" stroke-width="1"/>
<line x1="315.05" y1="38.4" x2="315.05" y2="49.5" stroke="#111" stroke-width="1"/>
<line x1="314.15" y1="38.4" x2="315.95" y2="38.4" stroke="#111" stroke-width="1"/>
<line x1="314.15" y1="49.5" x2="315.95" y2="49.5" stroke="#111" stroke-width="1"/>
<line x1="340.6" y1="89.3" x2="340.6" y2="94.8" stroke="#111" stroke-width="1"/>
<line x1="339.7" y1="89.3" x2="341.5" y2="89.3" stroke="#111" stroke-width="1"/>
<line x1="339.7" y1="94.8" x2="341.5" y2="94.8" stroke="#111" stroke-width="1"/>
<line x1="347.9" y1="46.3" x2="347.9" y2="52.2" stroke="#111" stroke-width="1"/>
<line x1="347" y1="46.3" x2="348.8" y2="46.3" stroke="#111" stroke-width="1"/>
<line x1="347" y1="52.2" x2="348.8" y2="52.2" stroke="#111" stroke-width="1"/>
<path d="M300.4 54 L300.4 54 L310 54 L310 54" stroke="#3a3a3a" stroke-width="1.2" fill="none"/>
<text x="305.5" y="53" font-size="7.3" text-anchor="middle" fill="#222" stroke="#222" stroke-width="0.18" letter-spacing="0.6">**</text>
<path d="M315.5 39 L315.5 39 L325.6 39 L325.6 39" stroke="#3a3a3a" stroke-width="1.2" fill="none"/>
<text x="320.9" y="38" font-size="7.3" text-anchor="middle" fill="#222" stroke="#222" stroke-width="0.18" letter-spacing="0.6">**</text>
<path d="M332.4 54 L332.4 54 L342.5 54 L342.5 54" stroke="#3a3a3a" stroke-width="1.2" fill="none"/>
<text x="337.7" y="53" font-size="7.3" text-anchor="middle" fill="#222" stroke="#222" stroke-width="0.18" letter-spacing="0.6">**</text>
<path d="M340.7 43.6 L340.7 43.6 L350 43.6 L350 43.6" stroke="#3a3a3a" stroke-width="1.2" fill="none"/>
<text x="345.6" y="43" font-size="7.3" text-anchor="middle" fill="#222" stroke="#222" stroke-width="0.18" letter-spacing="0.6">**</text>
<text x="307.7" y="113.8" font-size="6.6" text-anchor="middle" stroke="#231f20" stroke-width="0.12" textLength="20" lengthAdjust="spacingAndGlyphs">Cebp&#945;</text>
<text x="340.4" y="113.8" font-size="6.6" text-anchor="middle" stroke="#231f20" stroke-width="0.12" textLength="19.2" lengthAdjust="spacingAndGlyphs">Cepb&#948;</text>
<rect x="298.5" y="120" width="3.8" height="3.8" fill="#6db03d"/>
<text x="305.7" y="124.2" font-size="6.9" font-style="italic" stroke="#231f20" stroke-width="0.12" textLength="18.5" lengthAdjust="spacingAndGlyphs">MSCV</text>
<rect x="333.8" y="120" width="3.8" height="3.8" fill="#c0103a"/>
<text x="340.8" y="124.2" font-size="6.9" font-style="italic" stroke="#231f20" stroke-width="0.12" textLength="12.3" lengthAdjust="spacingAndGlyphs">Myc</text>
<rect x="298.5" y="129.8" width="3.8" height="3.8" fill="#2f5088"/>
<text x="305.7" y="134.2" font-size="6.9" font-style="italic" stroke="#231f20" stroke-width="0.12" textLength="12" lengthAdjust="spacingAndGlyphs">Myc</text>
<text x="318" y="131.2" font-size="4.2" font-style="italic" stroke="#231f20" stroke-width="0.12" textLength="13" lengthAdjust="spacingAndGlyphs">V394D</text>
<text x="378.7" y="16.6" font-size="12" font-weight="bold" fill="#000" stroke="#000" stroke-width="0.12" textLength="8.41" lengthAdjust="spacingAndGlyphs">D</text>
<text x="386" y="67.5" font-size="9.2" text-anchor="middle" stroke="#231f20" stroke-width="0.12" textLength="49.4" lengthAdjust="spacingAndGlyphs" transform="rotate(-90 386 67.5)">Ratio of Myc/IgG</text>
<line x1="401.2" y1="24.6" x2="401.2" y2="111.35" stroke="#231f20" stroke-width="1.1"/>
<line x1="398.6" y1="110.8" x2="401.2" y2="110.8" stroke="#231f20" stroke-width="1.1"/>
<text x="395.7" y="113.18" font-size="7" text-anchor="end" fill="#2a2a2a" stroke="#2a2a2a" stroke-width="0.08" textLength="3.58" lengthAdjust="spacingAndGlyphs">0</text>
<line x1="398.6" y1="101.5" x2="401.2" y2="101.5" stroke="#231f20" stroke-width="1.1"/>
<text x="395.7" y="103.88" font-size="7" text-anchor="end" fill="#2a2a2a" stroke="#2a2a2a" stroke-width="0.08" textLength="3.58" lengthAdjust="spacingAndGlyphs">1</text>
<line x1="398.6" y1="92.2" x2="401.2" y2="92.2" stroke="#231f20" stroke-width="1.1"/>
<text x="395.7" y="94.58" font-size="7" text-anchor="end" fill="#2a2a2a" stroke="#2a2a2a" stroke-width="0.08" textLength="3.58" lengthAdjust="spacingAndGlyphs">2</text>
<line x1="398.6" y1="82.9" x2="401.2" y2="82.9" stroke="#231f20" stroke-width="1.1"/>
<text x="395.7" y="85.28" font-size="7" text-anchor="end" fill="#2a2a2a" stroke="#2a2a2a" stroke-width="0.08" textLength="3.58" lengthAdjust="spacingAndGlyphs">3</text>
<line x1="398.6" y1="73.6" x2="401.2" y2="73.6" stroke="#231f20" stroke-width="1.1"/>
<text x="395.7" y="75.98" font-size="7" text-anchor="end" fill="#2a2a2a" stroke="#2a2a2a" stroke-width="0.08" textLength="3.58" lengthAdjust="spacingAndGlyphs">4</text>
<line x1="398.6" y1="64.3" x2="401.2" y2="64.3" stroke="#231f20" stroke-width="1.1"/>
<text x="395.7" y="66.68" font-size="7" text-anchor="end" fill="#2a2a2a" stroke="#2a2a2a" stroke-width="0.08" textLength="3.58" lengthAdjust="spacingAndGlyphs">5</text>
<line x1="398.6" y1="55" x2="401.2" y2="55" stroke="#231f20" stroke-width="1.1"/>
<text x="395.7" y="57.38" font-size="7" text-anchor="end" fill="#2a2a2a" stroke="#2a2a2a" stroke-width="0.08" textLength="3.58" lengthAdjust="spacingAndGlyphs">6</text>
<line x1="398.6" y1="45.7" x2="401.2" y2="45.7" stroke="#231f20" stroke-width="1.1"/>
<text x="395.7" y="48.08" font-size="7" text-anchor="end" fill="#2a2a2a" stroke="#2a2a2a" stroke-width="0.08" textLength="3.58" lengthAdjust="spacingAndGlyphs">7</text>
<line x1="398.6" y1="36.4" x2="401.2" y2="36.4" stroke="#231f20" stroke-width="1.1"/>
<text x="395.7" y="38.78" font-size="7" text-anchor="end" fill="#2a2a2a" stroke="#2a2a2a" stroke-width="0.08" textLength="3.58" lengthAdjust="spacingAndGlyphs">8</text>
<line x1="398.6" y1="27.1" x2="401.2" y2="27.1" stroke="#231f20" stroke-width="1.1"/>
<text x="395.7" y="29.48" font-size="7" text-anchor="end" fill="#2a2a2a" stroke="#2a2a2a" stroke-width="0.08" textLength="3.58" lengthAdjust="spacingAndGlyphs">9</text>
<line x1="400.65" y1="110.8" x2="448.6" y2="110.8" stroke="#231f20" stroke-width="1.1"/>
<line x1="394" y1="101.5" x2="463.6" y2="101.5" stroke="#c8334f" stroke-width="1.1" stroke-dasharray="2.8 1.8"/>
<rect x="407" y="98.1" width="6" height="12.7" fill="#ad0b33"/>
<rect x="414.9" y="100" width="5.9" height="10.8" fill="#2d4d86"/>
<rect x="433.8" y="42.8" width="5.9" height="68" fill="#ad0b33"/>
<rect x="441.3" y="95.8" width="6" height="15" fill="#2d4d86"/>
<line x1="410" y1="96.5" x2="410" y2="99.6" stroke="#111" stroke-width="1"/>
<line x1="409.1" y1="96.5" x2="410.9" y2="96.5" stroke="#111" stroke-width="1"/>
<line x1="409.1" y1="99.6" x2="410.9" y2="99.6" stroke="#111" stroke-width="1"/>
<line x1="417.85" y1="98.2" x2="417.85" y2="102" stroke="#111" stroke-width="1"/>
<line x1="416.95" y1="98.2" x2="418.75" y2="98.2" stroke="#111" stroke-width="1"/>
<line x1="416.95" y1="102" x2="418.75" y2="102" stroke="#111" stroke-width="1"/>
<line x1="436.75" y1="32.5" x2="436.75" y2="53.2" stroke="#111" stroke-width="1"/>
<line x1="435.85" y1="32.5" x2="437.65" y2="32.5" stroke="#111" stroke-width="1"/>
<line x1="435.85" y1="53.2" x2="437.65" y2="53.2" stroke="#111" stroke-width="1"/>
<line x1="444.3" y1="91.5" x2="444.3" y2="99.9" stroke="#111" stroke-width="1"/>
<line x1="443.4" y1="91.5" x2="445.2" y2="91.5" stroke="#111" stroke-width="1"/>
<line x1="443.4" y1="99.9" x2="445.2" y2="99.9" stroke="#111" stroke-width="1"/>
<path d="M431.7 29.3 L431.7 29.3 L443.7 29.3 L443.7 29.3" stroke="#3a3a3a" stroke-width="1.2" fill="none"/>
<text x="438" y="30.1" font-size="7.3" text-anchor="middle" fill="#222" stroke="#222" stroke-width="0.18" letter-spacing="0.6">**</text>
<text x="413.9" y="119.5" font-size="6.6" text-anchor="middle" stroke="#231f20" stroke-width="0.12">P</text>
<text x="440.4" y="119.5" font-size="6.6" text-anchor="middle" stroke="#231f20" stroke-width="0.12">D</text>
<line x1="407" y1="124.1" x2="447.9" y2="124.1" stroke="#444" stroke-width="1.3"/>
<text x="427.4" y="133.2" font-size="6.6" text-anchor="middle" stroke="#231f20" stroke-width="0.12" textLength="20.5" lengthAdjust="spacingAndGlyphs">Cebp&#945;</text>
<line x1="463.8" y1="24.6" x2="463.8" y2="110.75" stroke="#231f20" stroke-width="1.1"/>
<line x1="461.2" y1="109.9" x2="463.8" y2="109.9" stroke="#231f20" stroke-width="1.1"/>
<text x="458.3" y="112.28" font-size="7" text-anchor="end" fill="#2a2a2a" stroke="#2a2a2a" stroke-width="0.08" textLength="3.58" lengthAdjust="spacingAndGlyphs">0</text>
<line x1="461.2" y1="97.93" x2="463.8" y2="97.93" stroke="#231f20" stroke-width="1.1"/>
<text x="458.3" y="100.31" font-size="7" text-anchor="end" fill="#2a2a2a" stroke="#2a2a2a" stroke-width="0.08" textLength="3.58" lengthAdjust="spacingAndGlyphs">5</text>
<line x1="461.2" y1="85.96" x2="463.8" y2="85.96" stroke="#231f20" stroke-width="1.1"/>
<text x="458.3" y="88.34" font-size="7" text-anchor="end" fill="#2a2a2a" stroke="#2a2a2a" stroke-width="0.08" textLength="7.16" lengthAdjust="spacingAndGlyphs">10</text>
<line x1="461.2" y1="73.99" x2="463.8" y2="73.99" stroke="#231f20" stroke-width="1.1"/>
<text x="458.3" y="76.37" font-size="7" text-anchor="end" fill="#2a2a2a" stroke="#2a2a2a" stroke-width="0.08" textLength="7.16" lengthAdjust="spacingAndGlyphs">15</text>
<line x1="461.2" y1="62.02" x2="463.8" y2="62.02" stroke="#231f20" stroke-width="1.1"/>
<text x="458.3" y="64.4" font-size="7" text-anchor="end" fill="#2a2a2a" stroke="#2a2a2a" stroke-width="0.08" textLength="7.16" lengthAdjust="spacingAndGlyphs">20</text>
<line x1="461.2" y1="50.05" x2="463.8" y2="50.05" stroke="#231f20" stroke-width="1.1"/>
<text x="458.3" y="52.43" font-size="7" text-anchor="end" fill="#2a2a2a" stroke="#2a2a2a" stroke-width="0.08" textLength="7.16" lengthAdjust="spacingAndGlyphs">25</text>
<line x1="461.2" y1="38.08" x2="463.8" y2="38.08" stroke="#231f20" stroke-width="1.1"/>
<text x="458.3" y="40.46" font-size="7" text-anchor="end" fill="#2a2a2a" stroke="#2a2a2a" stroke-width="0.08" textLength="7.16" lengthAdjust="spacingAndGlyphs">30</text>
<line x1="461.2" y1="26.11" x2="463.8" y2="26.11" stroke="#231f20" stroke-width="1.1"/>
<text x="458.3" y="28.49" font-size="7" text-anchor="end" fill="#2a2a2a" stroke="#2a2a2a" stroke-width="0.08" textLength="7.16" lengthAdjust="spacingAndGlyphs">35</text>
<line x1="463.25" y1="110.2" x2="512.8" y2="110.2" stroke="#231f20" stroke-width="1.1"/>
<line x1="457" y1="107.9" x2="514.8" y2="107.9" stroke="#c8334f" stroke-width="1.1" stroke-dasharray="2.8 1.8"/>
<rect x="469.9" y="41" width="6.6" height="69.2" fill="#ad0b33"/>
<rect x="478.5" y="100.7" width="5.7" height="9.5" fill="#2d4d86"/>
<rect x="496.6" y="108" width="5.7" height="2.2" fill="#ad0b33"/>
<rect x="504.4" y="107.6" width="5.7" height="2.6" fill="#2d4d86"/>
<line x1="473.2" y1="33" x2="473.2" y2="48.8" stroke="#111" stroke-width="1"/>
<line x1="472.3" y1="33" x2="474.1" y2="33" stroke="#111" stroke-width="1"/>
<line x1="472.3" y1="48.8" x2="474.1" y2="48.8" stroke="#111" stroke-width="1"/>
<line x1="481.35" y1="98" x2="481.35" y2="103.3" stroke="#111" stroke-width="1"/>
<line x1="480.45" y1="98" x2="482.25" y2="98" stroke="#111" stroke-width="1"/>
<line x1="480.45" y1="103.3" x2="482.25" y2="103.3" stroke="#111" stroke-width="1"/>
<line x1="499.4" y1="107" x2="499.4" y2="109" stroke="#111" stroke-width="1"/>
<line x1="498.5" y1="107" x2="500.3" y2="107" stroke="#111" stroke-width="1"/>
<line x1="498.5" y1="109" x2="500.3" y2="109" stroke="#111" stroke-width="1"/>
<line x1="507.2" y1="106.5" x2="507.2" y2="109" stroke="#111" stroke-width="1"/>
<line x1="506.3" y1="106.5" x2="508.1" y2="106.5" stroke="#111" stroke-width="1"/>
<line x1="506.3" y1="109" x2="508.1" y2="109" stroke="#111" stroke-width="1"/>
<path d="M470.7 30.6 L470.7 30.6 L482.6 30.6 L482.6 30.6" stroke="#3a3a3a" stroke-width="1.2" fill="none"/>
<text x="476.7" y="30.8" font-size="7.3" text-anchor="middle" fill="#222" stroke="#222" stroke-width="0.18" letter-spacing="0.6">**</text>
<text x="477.1" y="119.3" font-size="6.6" text-anchor="middle" stroke="#231f20" stroke-width="0.12">P</text>
<text x="503.4" y="119.3" font-size="6.6" text-anchor="middle" stroke="#231f20" stroke-width="0.12">D</text>
<line x1="470.2" y1="123.6" x2="511.6" y2="123.6" stroke="#444" stroke-width="1.3"/>
<text x="490.8" y="132.8" font-size="6.6" text-anchor="middle" stroke="#231f20" stroke-width="0.12" textLength="20" lengthAdjust="spacingAndGlyphs">Cebp&#948;</text>
<rect x="419.8" y="143.15" width="2.9" height="2.9" fill="#ad0b33"/>
<text x="425.5" y="146.2" font-size="6.6" font-style="italic" stroke="#231f20" stroke-width="0.12" textLength="12.8" lengthAdjust="spacingAndGlyphs">Myc</text>
<rect x="447.4" y="143.15" width="2.9" height="2.9" fill="#2d4d86"/>
<text x="453.9" y="146.2" font-size="6.6" font-style="italic" stroke="#231f20" stroke-width="0.12" textLength="30" lengthAdjust="spacingAndGlyphs">Mycv394d</text>
<text x="11.9" y="168.1" font-size="12" font-weight="bold" fill="#000" stroke="#000" stroke-width="0.12" textLength="7.76" lengthAdjust="spacingAndGlyphs">E</text>
<text x="18.3" y="224.1" font-size="9.2" text-anchor="middle" stroke="#231f20" stroke-width="0.12" textLength="50.7" lengthAdjust="spacingAndGlyphs" transform="rotate(-90 18.3 224.1)">Ratio of Miz1/IgG</text>
<line x1="36.7" y1="180.4" x2="36.7" y2="267.65" stroke="#231f20" stroke-width="1.1"/>
<line x1="34.1" y1="267.1" x2="36.7" y2="267.1" stroke="#231f20" stroke-width="1.1"/>
<text x="31.2" y="269.48" font-size="7" text-anchor="end" fill="#2a2a2a" stroke="#2a2a2a" stroke-width="0.08" textLength="3.58" lengthAdjust="spacingAndGlyphs">0</text>
<line x1="34.1" y1="250.38" x2="36.7" y2="250.38" stroke="#231f20" stroke-width="1.1"/>
<text x="31.2" y="252.76" font-size="7" text-anchor="end" fill="#2a2a2a" stroke="#2a2a2a" stroke-width="0.08" textLength="3.58" lengthAdjust="spacingAndGlyphs">5</text>
<line x1="34.1" y1="233.65" x2="36.7" y2="233.65" stroke="#231f20" stroke-width="1.1"/>
<text x="31.2" y="236.03" font-size="7" text-anchor="end" fill="#2a2a2a" stroke="#2a2a2a" stroke-width="0.08" textLength="7.16" lengthAdjust="spacingAndGlyphs">10</text>
<line x1="34.1" y1="216.93" x2="36.7" y2="216.93" stroke="#231f20" stroke-width="1.1"/>
<text x="31.2" y="219.31" font-size="7" text-anchor="end" fill="#2a2a2a" stroke="#2a2a2a" stroke-width="0.08" textLength="7.16" lengthAdjust="spacingAndGlyphs">15</text>
<line x1="34.1" y1="200.2" x2="36.7" y2="200.2" stroke="#231f20" stroke-width="1.1"/>
<text x="31.2" y="202.58" font-size="7" text-anchor="end" fill="#2a2a2a" stroke="#2a2a2a" stroke-width="0.08" textLength="7.16" lengthAdjust="spacingAndGlyphs">20</text>
<line x1="34.1" y1="183.48" x2="36.7" y2="183.48" stroke="#231f20" stroke-width="1.1"/>
<text x="31.2" y="185.86" font-size="7" text-anchor="end" fill="#2a2a2a" stroke="#2a2a2a" stroke-width="0.08" textLength="7.16" lengthAdjust="spacingAndGlyphs">25</text>
<line x1="36.15" y1="267.1" x2="81.7" y2="267.1" stroke="#231f20" stroke-width="1.1"/>
<line x1="39.8" y1="264.4" x2="79.5" y2="264.4" stroke="#c8334f" stroke-width="1.1" stroke-dasharray="2.6 1.6"/>
<rect x="42.9" y="261.9" width="4.9" height="5.2" fill="#ad0b33"/>
<rect x="49.6" y="258.8" width="5.4" height="8.3" fill="#2d4d86"/>
<rect x="66.8" y="225.2" width="5" height="41.9" fill="#ad0b33"/>
<rect x="73.8" y="206.7" width="5" height="60.4" fill="#2d4d86"/>
<line x1="45.35" y1="257.3" x2="45.35" y2="264.5" stroke="#111" stroke-width="1"/>
<line x1="44.45" y1="257.3" x2="46.25" y2="257.3" stroke="#111" stroke-width="1"/>
<line x1="44.45" y1="264.5" x2="46.25" y2="264.5" stroke="#111" stroke-width="1"/>
<line x1="52.3" y1="256.3" x2="52.3" y2="261" stroke="#111" stroke-width="1"/>
<line x1="51.4" y1="256.3" x2="53.2" y2="256.3" stroke="#111" stroke-width="1"/>
<line x1="51.4" y1="261" x2="53.2" y2="261" stroke="#111" stroke-width="1"/>
<line x1="69.3" y1="216.2" x2="69.3" y2="233.3" stroke="#111" stroke-width="1"/>
<line x1="68.4" y1="216.2" x2="70.2" y2="216.2" stroke="#111" stroke-width="1"/>
<line x1="68.4" y1="233.3" x2="70.2" y2="233.3" stroke="#111" stroke-width="1"/>
<line x1="76.3" y1="197.3" x2="76.3" y2="215.5" stroke="#111" stroke-width="1"/>
<line x1="75.4" y1="197.3" x2="77.2" y2="197.3" stroke="#111" stroke-width="1"/>
<line x1="75.4" y1="215.5" x2="77.2" y2="215.5" stroke="#111" stroke-width="1"/>
<text x="48.9" y="275.8" font-size="6.6" text-anchor="middle" stroke="#231f20" stroke-width="0.12">P</text>
<text x="72.5" y="275.8" font-size="6.6" text-anchor="middle" stroke="#231f20" stroke-width="0.12">D</text>
<line x1="40.7" y1="280.3" x2="80.2" y2="280.3" stroke="#444" stroke-width="1.3"/>
<text x="60.4" y="289.5" font-size="6.6" text-anchor="middle" stroke="#231f20" stroke-width="0.12" textLength="19.6" lengthAdjust="spacingAndGlyphs">Cebp&#945;</text>
<line x1="109.2" y1="180.4" x2="109.2" y2="267.85" stroke="#231f20" stroke-width="1.1"/>
<line x1="106.6" y1="267" x2="109.2" y2="267" stroke="#231f20" stroke-width="1.1"/>
<text x="103.7" y="269.38" font-size="7" text-anchor="end" fill="#2a2a2a" stroke="#2a2a2a" stroke-width="0.08" textLength="3.58" lengthAdjust="spacingAndGlyphs">0</text>
<line x1="106.6" y1="258.62" x2="109.2" y2="258.62" stroke="#231f20" stroke-width="1.1"/>
<text x="103.7" y="261" font-size="7" text-anchor="end" fill="#2a2a2a" stroke="#2a2a2a" stroke-width="0.08" textLength="7.16" lengthAdjust="spacingAndGlyphs">10</text>
<line x1="106.6" y1="250.24" x2="109.2" y2="250.24" stroke="#231f20" stroke-width="1.1"/>
<text x="103.7" y="252.62" font-size="7" text-anchor="end" fill="#2a2a2a" stroke="#2a2a2a" stroke-width="0.08" textLength="7.16" lengthAdjust="spacingAndGlyphs">20</text>
<line x1="106.6" y1="241.86" x2="109.2" y2="241.86" stroke="#231f20" stroke-width="1.1"/>
<text x="103.7" y="244.24" font-size="7" text-anchor="end" fill="#2a2a2a" stroke="#2a2a2a" stroke-width="0.08" textLength="7.16" lengthAdjust="spacingAndGlyphs">30</text>
<line x1="106.6" y1="233.48" x2="109.2" y2="233.48" stroke="#231f20" stroke-width="1.1"/>
<text x="103.7" y="235.86" font-size="7" text-anchor="end" fill="#2a2a2a" stroke="#2a2a2a" stroke-width="0.08" textLength="7.16" lengthAdjust="spacingAndGlyphs">40</text>
<line x1="106.6" y1="225.1" x2="109.2" y2="225.1" stroke="#231f20" stroke-width="1.1"/>
<text x="103.7" y="227.48" font-size="7" text-anchor="end" fill="#2a2a2a" stroke="#2a2a2a" stroke-width="0.08" textLength="7.16" lengthAdjust="spacingAndGlyphs">50</text>
<line x1="106.6" y1="216.72" x2="109.2" y2="216.72" stroke="#231f20" stroke-width="1.1"/>
<text x="103.7" y="219.1" font-size="7" text-anchor="end" fill="#2a2a2a" stroke="#2a2a2a" stroke-width="0.08" textLength="7.16" lengthAdjust="spacingAndGlyphs">60</text>
<line x1="106.6" y1="208.34" x2="109.2" y2="208.34" stroke="#231f20" stroke-width="1.1"/>
<text x="103.7" y="210.72" font-size="7" text-anchor="end" fill="#2a2a2a" stroke="#2a2a2a" stroke-width="0.08" textLength="7.16" lengthAdjust="spacingAndGlyphs">70</text>
<line x1="106.6" y1="199.96" x2="109.2" y2="199.96" stroke="#231f20" stroke-width="1.1"/>
<text x="103.7" y="202.34" font-size="7" text-anchor="end" fill="#2a2a2a" stroke="#2a2a2a" stroke-width="0.08" textLength="7.16" lengthAdjust="spacingAndGlyphs">80</text>
<line x1="106.6" y1="191.58" x2="109.2" y2="191.58" stroke="#231f20" stroke-width="1.1"/>
<text x="103.7" y="193.96" font-size="7" text-anchor="end" fill="#2a2a2a" stroke="#2a2a2a" stroke-width="0.08" textLength="7.16" lengthAdjust="spacingAndGlyphs">90</text>
<line x1="106.6" y1="183.2" x2="109.2" y2="183.2" stroke="#231f20" stroke-width="1.1"/>
<text x="103.7" y="185.58" font-size="7" text-anchor="end" fill="#2a2a2a" stroke="#2a2a2a" stroke-width="0.08" textLength="10.75" lengthAdjust="spacingAndGlyphs">100</text>
<line x1="108.65" y1="267.3" x2="152.6" y2="267.3" stroke="#231f20" stroke-width="1.1"/>
<line x1="100" y1="265.3" x2="150.5" y2="265.3" stroke="#333" stroke-width="1" stroke-dasharray="2 2"/>
<rect x="114.5" y="207" width="5.1" height="60.3" fill="#ad0b33"/>
<rect x="121.1" y="202.8" width="5" height="64.5" fill="#2d4d86"/>
<rect x="137.9" y="265.1" width="5" height="2.2" fill="#ad0b33"/>
<rect x="144.8" y="264.3" width="4.8" height="3" fill="#2d4d86"/>
<line x1="117.05" y1="188.4" x2="117.05" y2="225.6" stroke="#111" stroke-width="1"/>
<line x1="116.15" y1="188.4" x2="117.95" y2="188.4" stroke="#111" stroke-width="1"/>
<line x1="116.15" y1="225.6" x2="117.95" y2="225.6" stroke="#111" stroke-width="1"/>
<line x1="123.6" y1="199.8" x2="123.6" y2="205.4" stroke="#111" stroke-width="1"/>
<line x1="122.7" y1="199.8" x2="124.5" y2="199.8" stroke="#111" stroke-width="1"/>
<line x1="122.7" y1="205.4" x2="124.5" y2="205.4" stroke="#111" stroke-width="1"/>
<line x1="147.2" y1="263.5" x2="147.2" y2="265.5" stroke="#111" stroke-width="1"/>
<line x1="146.3" y1="263.5" x2="148.1" y2="263.5" stroke="#111" stroke-width="1"/>
<line x1="146.3" y1="265.5" x2="148.1" y2="265.5" stroke="#111" stroke-width="1"/>
<text x="120.4" y="276" font-size="6.6" text-anchor="middle" stroke="#231f20" stroke-width="0.12">P</text>
<text x="143.6" y="276" font-size="6.6" text-anchor="middle" stroke="#231f20" stroke-width="0.12">D</text>
<line x1="112.9" y1="280.9" x2="153" y2="280.9" stroke="#555" stroke-width="1.3"/>
<text x="133.2" y="289.5" font-size="6.6" text-anchor="middle" stroke="#231f20" stroke-width="0.12" textLength="19.9" lengthAdjust="spacingAndGlyphs">Cebp&#948;</text>
<rect x="61.5" y="299.25" width="2.9" height="2.9" fill="#ad0b33"/>
<text x="67.8" y="302.9" font-size="6.6" font-style="italic" stroke="#231f20" stroke-width="0.12" textLength="12.1" lengthAdjust="spacingAndGlyphs">Myc</text>
<rect x="86.2" y="299.25" width="2.9" height="2.9" fill="#2d4d86"/>
<text x="92.7" y="302.9" font-size="6.6" font-style="italic" stroke="#231f20" stroke-width="0.12" textLength="29.6" lengthAdjust="spacingAndGlyphs">Mycv394d</text>
<text x="170.8" y="167.2" font-size="12" font-weight="bold" fill="#000" stroke="#000" stroke-width="0.12" textLength="7.11" lengthAdjust="spacingAndGlyphs">F</text>
<text x="182.5" y="223.9" font-size="9.2" stroke="#231f20" stroke-width="0.12" text-anchor="middle" transform="rotate(-90 182.5 223.9)" textLength="64.7" lengthAdjust="spacingAndGlyphs">Ratio of H3K9<tspan font-size="6.4" dy="-3.3">Me3</tspan><tspan dy="3.3">/IgG</tspan></text>
<line x1="196.2" y1="180.4" x2="196.2" y2="267.85" stroke="#231f20" stroke-width="1.1"/>
<line x1="193.6" y1="267.2" x2="196.2" y2="267.2" stroke="#231f20" stroke-width="1.1"/>
<text x="190.7" y="269.58" font-size="7" text-anchor="end" fill="#2a2a2a" stroke="#2a2a2a" stroke-width="0.08" textLength="3.58" lengthAdjust="spacingAndGlyphs">0</text>
<line x1="193.6" y1="257.83" x2="196.2" y2="257.83" stroke="#231f20" stroke-width="1.1"/>
<text x="190.7" y="260.21" font-size="7" text-anchor="end" fill="#2a2a2a" stroke="#2a2a2a" stroke-width="0.08" textLength="3.58" lengthAdjust="spacingAndGlyphs">1</text>
<line x1="193.6" y1="248.46" x2="196.2" y2="248.46" stroke="#231f20" stroke-width="1.1"/>
<text x="190.7" y="250.84" font-size="7" text-anchor="end" fill="#2a2a2a" stroke="#2a2a2a" stroke-width="0.08" textLength="3.58" lengthAdjust="spacingAndGlyphs">2</text>
<line x1="193.6" y1="239.09" x2="196.2" y2="239.09" stroke="#231f20" stroke-width="1.1"/>
<text x="190.7" y="241.47" font-size="7" text-anchor="end" fill="#2a2a2a" stroke="#2a2a2a" stroke-width="0.08" textLength="3.58" lengthAdjust="spacingAndGlyphs">3</text>
<line x1="193.6" y1="229.72" x2="196.2" y2="229.72" stroke="#231f20" stroke-width="1.1"/>
<text x="190.7" y="232.1" font-size="7" text-anchor="end" fill="#2a2a2a" stroke="#2a2a2a" stroke-width="0.08" textLength="3.58" lengthAdjust="spacingAndGlyphs">4</text>
<line x1="193.6" y1="220.35" x2="196.2" y2="220.35" stroke="#231f20" stroke-width="1.1"/>
<text x="190.7" y="222.73" font-size="7" text-anchor="end" fill="#2a2a2a" stroke="#2a2a2a" stroke-width="0.08" textLength="3.58" lengthAdjust="spacingAndGlyphs">5</text>
<line x1="193.6" y1="210.98" x2="196.2" y2="210.98" stroke="#231f20" stroke-width="1.1"/>
<text x="190.7" y="213.36" font-size="7" text-anchor="end" fill="#2a2a2a" stroke="#2a2a2a" stroke-width="0.08" textLength="3.58" lengthAdjust="spacingAndGlyphs">6</text>
<line x1="193.6" y1="201.61" x2="196.2" y2="201.61" stroke="#231f20" stroke-width="1.1"/>
<text x="190.7" y="203.99" font-size="7" text-anchor="end" fill="#2a2a2a" stroke="#2a2a2a" stroke-width="0.08" textLength="3.58" lengthAdjust="spacingAndGlyphs">7</text>
<line x1="193.6" y1="192.24" x2="196.2" y2="192.24" stroke="#231f20" stroke-width="1.1"/>
<text x="190.7" y="194.62" font-size="7" text-anchor="end" fill="#2a2a2a" stroke="#2a2a2a" stroke-width="0.08" textLength="3.58" lengthAdjust="spacingAndGlyphs">8</text>
<line x1="193.6" y1="182.87" x2="196.2" y2="182.87" stroke="#231f20" stroke-width="1.1"/>
<text x="190.7" y="185.25" font-size="7" text-anchor="end" fill="#2a2a2a" stroke="#2a2a2a" stroke-width="0.08" textLength="3.58" lengthAdjust="spacingAndGlyphs">9</text>
<line x1="195.65" y1="267.3" x2="243.5" y2="267.3" stroke="#231f20" stroke-width="1.1"/>
<line x1="196.2" y1="257.8" x2="236.5" y2="257.8" stroke="#c8334f" stroke-width="1.1" stroke-dasharray="2.6 1.6"/>
<rect x="202.3" y="254.2" width="5.4" height="13.1" fill="#ad0b33"/>
<rect x="210" y="256.5" width="5" height="10.8" fill="#2d4d86"/>
<rect x="228" y="199" width="5.8" height="68.3" fill="#ad0b33"/>
<rect x="235.4" y="248" width="5.4" height="19.3" fill="#2d4d86"/>
<line x1="205" y1="253.4" x2="205" y2="255.6" stroke="#111" stroke-width="1"/>
<line x1="204.1" y1="253.4" x2="205.9" y2="253.4" stroke="#111" stroke-width="1"/>
<line x1="204.1" y1="255.6" x2="205.9" y2="255.6" stroke="#111" stroke-width="1"/>
<line x1="212.5" y1="254.2" x2="212.5" y2="259" stroke="#111" stroke-width="1"/>
<line x1="211.6" y1="254.2" x2="213.4" y2="254.2" stroke="#111" stroke-width="1"/>
<line x1="211.6" y1="259" x2="213.4" y2="259" stroke="#111" stroke-width="1"/>
<line x1="230.9" y1="187.5" x2="230.9" y2="209.6" stroke="#111" stroke-width="1"/>
<line x1="230" y1="187.5" x2="231.8" y2="187.5" stroke="#111" stroke-width="1"/>
<line x1="230" y1="209.6" x2="231.8" y2="209.6" stroke="#111" stroke-width="1"/>
<line x1="238.1" y1="240" x2="238.1" y2="256" stroke="#111" stroke-width="1"/>
<line x1="237.2" y1="240" x2="239" y2="240" stroke="#111" stroke-width="1"/>
<line x1="237.2" y1="256" x2="239" y2="256" stroke="#111" stroke-width="1"/>
<path d="M231.2 186.9 L231.2 186.9 L241.5 186.9 L241.5 188.1" stroke="#3a3a3a" stroke-width="1.2" fill="none"/>
<text x="236.3" y="187.7" font-size="7.3" text-anchor="middle" fill="#222" stroke="#222" stroke-width="0.18" letter-spacing="0.6">**</text>
<text x="209.1" y="275.8" font-size="6.6" text-anchor="middle" stroke="#231f20" stroke-width="0.12">P</text>
<text x="234.8" y="275.8" font-size="6.6" text-anchor="middle" stroke="#231f20" stroke-width="0.12">D</text>
<line x1="201" y1="280.5" x2="242.1" y2="280.5" stroke="#444" stroke-width="1.3"/>
<text x="221.5" y="289.6" font-size="6.6" text-anchor="middle" stroke="#231f20" stroke-width="0.12" textLength="20.2" lengthAdjust="spacingAndGlyphs">Cebp&#945;</text>
<line x1="264.4" y1="180.4" x2="264.4" y2="267.55" stroke="#231f20" stroke-width="1.1"/>
<line x1="261.8" y1="266.8" x2="264.4" y2="266.8" stroke="#231f20" stroke-width="1.1"/>
<text x="258.9" y="269.18" font-size="7" text-anchor="end" fill="#2a2a2a" stroke="#2a2a2a" stroke-width="0.08" textLength="3.58" lengthAdjust="spacingAndGlyphs">0</text>
<line x1="261.8" y1="254.9" x2="264.4" y2="254.9" stroke="#231f20" stroke-width="1.1"/>
<text x="258.9" y="257.28" font-size="7" text-anchor="end" fill="#2a2a2a" stroke="#2a2a2a" stroke-width="0.08" textLength="3.58" lengthAdjust="spacingAndGlyphs">5</text>
<line x1="261.8" y1="243" x2="264.4" y2="243" stroke="#231f20" stroke-width="1.1"/>
<text x="258.9" y="245.38" font-size="7" text-anchor="end" fill="#2a2a2a" stroke="#2a2a2a" stroke-width="0.08" textLength="7.16" lengthAdjust="spacingAndGlyphs">10</text>
<line x1="261.8" y1="231.1" x2="264.4" y2="231.1" stroke="#231f20" stroke-width="1.1"/>
<text x="258.9" y="233.48" font-size="7" text-anchor="end" fill="#2a2a2a" stroke="#2a2a2a" stroke-width="0.08" textLength="7.16" lengthAdjust="spacingAndGlyphs">15</text>
<line x1="261.8" y1="219.2" x2="264.4" y2="219.2" stroke="#231f20" stroke-width="1.1"/>
<text x="258.9" y="221.58" font-size="7" text-anchor="end" fill="#2a2a2a" stroke="#2a2a2a" stroke-width="0.08" textLength="7.16" lengthAdjust="spacingAndGlyphs">20</text>
<line x1="261.8" y1="207.3" x2="264.4" y2="207.3" stroke="#231f20" stroke-width="1.1"/>
<text x="258.9" y="209.68" font-size="7" text-anchor="end" fill="#2a2a2a" stroke="#2a2a2a" stroke-width="0.08" textLength="7.16" lengthAdjust="spacingAndGlyphs">25</text>
<line x1="261.8" y1="195.4" x2="264.4" y2="195.4" stroke="#231f20" stroke-width="1.1"/>
<text x="258.9" y="197.78" font-size="7" text-anchor="end" fill="#2a2a2a" stroke="#2a2a2a" stroke-width="0.08" textLength="7.16" lengthAdjust="spacingAndGlyphs">30</text>
<line x1="261.8" y1="183.5" x2="264.4" y2="183.5" stroke="#231f20" stroke-width="1.1"/>
<text x="258.9" y="185.88" font-size="7" text-anchor="end" fill="#2a2a2a" stroke="#2a2a2a" stroke-width="0.08" textLength="7.16" lengthAdjust="spacingAndGlyphs">35</text>
<line x1="263.85" y1="267" x2="310.6" y2="267" stroke="#231f20" stroke-width="1.1"/>
<line x1="265.4" y1="263.3" x2="309.6" y2="263.3" stroke="#c8334f" stroke-width="1.1" stroke-dasharray="2.6 1.6"/>
<rect x="270.8" y="196.7" width="5.2" height="70.3" fill="#ad0b33"/>
<rect x="277.5" y="254" width="5.5" height="13" fill="#2d4d86"/>
<rect x="295.2" y="263.7" width="5.2" height="3.3" fill="#ad0b33"/>
<rect x="302" y="264" width="5.3" height="3" fill="#2d4d86"/>
<line x1="273.4" y1="188.5" x2="273.4" y2="204.4" stroke="#111" stroke-width="1"/>
<line x1="272.5" y1="188.5" x2="274.3" y2="188.5" stroke="#111" stroke-width="1"/>
<line x1="272.5" y1="204.4" x2="274.3" y2="204.4" stroke="#111" stroke-width="1"/>
<line x1="280.25" y1="251" x2="280.25" y2="256.5" stroke="#111" stroke-width="1"/>
<line x1="279.35" y1="251" x2="281.15" y2="251" stroke="#111" stroke-width="1"/>
<line x1="279.35" y1="256.5" x2="281.15" y2="256.5" stroke="#111" stroke-width="1"/>
<line x1="297.8" y1="262.6" x2="297.8" y2="264.6" stroke="#111" stroke-width="1"/>
<line x1="296.9" y1="262.6" x2="298.7" y2="262.6" stroke="#111" stroke-width="1"/>
<line x1="296.9" y1="264.6" x2="298.7" y2="264.6" stroke="#111" stroke-width="1"/>
<line x1="304.6" y1="262.5" x2="304.6" y2="265" stroke="#111" stroke-width="1"/>
<line x1="303.7" y1="262.5" x2="305.5" y2="262.5" stroke="#111" stroke-width="1"/>
<line x1="303.7" y1="265" x2="305.5" y2="265" stroke="#111" stroke-width="1"/>
<path d="M273 187.9 L273 187.9 L284.6 187.9 L284.6 189.1" stroke="#3a3a3a" stroke-width="1.2" fill="none"/>
<text x="279.1" y="188.6" font-size="7.3" text-anchor="middle" fill="#222" stroke="#222" stroke-width="0.18" letter-spacing="0.6">**</text>
<text x="277.6" y="275.8" font-size="6.6" text-anchor="middle" stroke="#231f20" stroke-width="0.12">P</text>
<text x="301.9" y="275.8" font-size="6.6" text-anchor="middle" stroke="#231f20" stroke-width="0.12">D</text>
<line x1="269.6" y1="280.6" x2="310.6" y2="280.6" stroke="#444" stroke-width="1.3"/>
<text x="290.4" y="289.6" font-size="6.6" text-anchor="middle" stroke="#231f20" stroke-width="0.12" textLength="19.6" lengthAdjust="spacingAndGlyphs">Cebp&#948;</text>
<rect x="219" y="299.75" width="2.9" height="2.9" fill="#ad0b33"/>
<text x="224.8" y="303.4" font-size="6.6" font-style="italic" stroke="#231f20" stroke-width="0.12" textLength="12.5" lengthAdjust="spacingAndGlyphs">Myc</text>
<rect x="246.5" y="299.75" width="2.9" height="2.9" fill="#2d4d86"/>
<text x="252.7" y="303.4" font-size="6.6" font-style="italic" stroke="#231f20" stroke-width="0.12" textLength="30" lengthAdjust="spacingAndGlyphs">Mycv394d</text>
<text x="325.8" y="167.2" font-size="12" font-weight="bold" fill="#000" stroke="#000" stroke-width="0.12" textLength="9.05" lengthAdjust="spacingAndGlyphs">G</text>
<text x="337.2" y="221.1" font-size="9.2" stroke="#231f20" stroke-width="0.12" text-anchor="middle" transform="rotate(-90 337.2 221.1)" textLength="60.6" lengthAdjust="spacingAndGlyphs">Ratio of H3K9<tspan font-size="6.4" dy="-3.3">Ac</tspan><tspan dy="3.3">/IgG</tspan></text>
<line x1="355.1" y1="178.8" x2="355.1" y2="267.65" stroke="#231f20" stroke-width="1.1"/>
<line x1="352.5" y1="267.1" x2="355.1" y2="267.1" stroke="#231f20" stroke-width="1.1"/>
<text x="349.6" y="269.48" font-size="7" text-anchor="end" fill="#2a2a2a" stroke="#2a2a2a" stroke-width="0.08" textLength="3.58" lengthAdjust="spacingAndGlyphs">0</text>
<line x1="352.5" y1="249.8" x2="355.1" y2="249.8" stroke="#231f20" stroke-width="1.1"/>
<text x="349.6" y="252.18" font-size="7" text-anchor="end" fill="#2a2a2a" stroke="#2a2a2a" stroke-width="0.08" textLength="3.58" lengthAdjust="spacingAndGlyphs">5</text>
<line x1="352.5" y1="232.5" x2="355.1" y2="232.5" stroke="#231f20" stroke-width="1.1"/>
<text x="349.6" y="234.88" font-size="7" text-anchor="end" fill="#2a2a2a" stroke="#2a2a2a" stroke-width="0.08" textLength="7.16" lengthAdjust="spacingAndGlyphs">10</text>
<line x1="352.5" y1="215.2" x2="355.1" y2="215.2" stroke="#231f20" stroke-width="1.1"/>
<text x="349.6" y="217.58" font-size="7" text-anchor="end" fill="#2a2a2a" stroke="#2a2a2a" stroke-width="0.08" textLength="7.16" lengthAdjust="spacingAndGlyphs">15</text>
<line x1="352.5" y1="197.9" x2="355.1" y2="197.9" stroke="#231f20" stroke-width="1.1"/>
<text x="349.6" y="200.28" font-size="7" text-anchor="end" fill="#2a2a2a" stroke="#2a2a2a" stroke-width="0.08" textLength="7.16" lengthAdjust="spacingAndGlyphs">20</text>
<line x1="352.5" y1="180.6" x2="355.1" y2="180.6" stroke="#231f20" stroke-width="1.1"/>
<text x="349.6" y="182.98" font-size="7" text-anchor="end" fill="#2a2a2a" stroke="#2a2a2a" stroke-width="0.08" textLength="7.16" lengthAdjust="spacingAndGlyphs">25</text>
<line x1="354.55" y1="267.1" x2="399.8" y2="267.1" stroke="#231f20" stroke-width="1.1"/>
<line x1="355.1" y1="264" x2="395.4" y2="264" stroke="#cfd49a" stroke-width="1.1" stroke-dasharray="2.6 1.6"/>
<rect x="361.7" y="264.2" width="5.2" height="2.9" fill="#ad0b33"/>
<rect x="369" y="258.3" width="5.2" height="8.8" fill="#2d4d86"/>
<rect x="386.7" y="260.2" width="5.2" height="6.9" fill="#ad0b33"/>
<rect x="394" y="205.2" width="5.2" height="61.9" fill="#2d4d86"/>
<line x1="364.3" y1="262.5" x2="364.3" y2="266" stroke="#111" stroke-width="1"/>
<line x1="363.4" y1="262.5" x2="365.2" y2="262.5" stroke="#111" stroke-width="1"/>
<line x1="363.4" y1="266" x2="365.2" y2="266" stroke="#111" stroke-width="1"/>
<line x1="371.6" y1="255" x2="371.6" y2="262" stroke="#111" stroke-width="1"/>
<line x1="370.7" y1="255" x2="372.5" y2="255" stroke="#111" stroke-width="1"/>
<line x1="370.7" y1="262" x2="372.5" y2="262" stroke="#111" stroke-width="1"/>
<line x1="389.3" y1="258.5" x2="389.3" y2="262" stroke="#111" stroke-width="1"/>
<line x1="388.4" y1="258.5" x2="390.2" y2="258.5" stroke="#111" stroke-width="1"/>
<line x1="388.4" y1="262" x2="390.2" y2="262" stroke="#111" stroke-width="1"/>
<line x1="396.6" y1="195.6" x2="396.6" y2="214.4" stroke="#111" stroke-width="1"/>
<line x1="395.7" y1="195.6" x2="397.5" y2="195.6" stroke="#111" stroke-width="1"/>
<line x1="395.7" y1="214.4" x2="397.5" y2="214.4" stroke="#111" stroke-width="1"/>
<path d="M388.3 193.3 L388.3 193.3 L400.2 193.3 L400.2 193.3" stroke="#3a3a3a" stroke-width="1.2" fill="none"/>
<text x="394.3" y="194.1" font-size="7.3" text-anchor="middle" fill="#222" stroke="#222" stroke-width="0.18" letter-spacing="0.6">**</text>
<text x="367.5" y="275.8" font-size="6.6" text-anchor="middle" stroke="#231f20" stroke-width="0.12">P</text>
<text x="393" y="275.8" font-size="6.6" text-anchor="middle" stroke="#231f20" stroke-width="0.12">D</text>
<line x1="359.8" y1="280.6" x2="400.8" y2="280.6" stroke="#444" stroke-width="1.3"/>
<text x="380.5" y="289.6" font-size="6.6" text-anchor="middle" stroke="#231f20" stroke-width="0.12" textLength="20.2" lengthAdjust="spacingAndGlyphs">Cebp&#945;</text>
<line x1="424.2" y1="179.2" x2="424.2" y2="267.65" stroke="#231f20" stroke-width="1.1"/>
<line x1="421.6" y1="266.6" x2="424.2" y2="266.6" stroke="#231f20" stroke-width="1.1"/>
<text x="418.7" y="268.98" font-size="7" text-anchor="end" fill="#2a2a2a" stroke="#2a2a2a" stroke-width="0.08" textLength="3.58" lengthAdjust="spacingAndGlyphs">0</text>
<line x1="421.6" y1="258.08" x2="424.2" y2="258.08" stroke="#231f20" stroke-width="1.1"/>
<text x="418.7" y="260.46" font-size="7" text-anchor="end" fill="#2a2a2a" stroke="#2a2a2a" stroke-width="0.08" textLength="7.16" lengthAdjust="spacingAndGlyphs">10</text>
<line x1="421.6" y1="249.56" x2="424.2" y2="249.56" stroke="#231f20" stroke-width="1.1"/>
<text x="418.7" y="251.94" font-size="7" text-anchor="end" fill="#2a2a2a" stroke="#2a2a2a" stroke-width="0.08" textLength="7.16" lengthAdjust="spacingAndGlyphs">20</text>
<line x1="421.6" y1="241.04" x2="424.2" y2="241.04" stroke="#231f20" stroke-width="1.1"/>
<text x="418.7" y="243.42" font-size="7" text-anchor="end" fill="#2a2a2a" stroke="#2a2a2a" stroke-width="0.08" textLength="7.16" lengthAdjust="spacingAndGlyphs">30</text>
<line x1="421.6" y1="232.52" x2="424.2" y2="232.52" stroke="#231f20" stroke-width="1.1"/>
<text x="418.7" y="234.9" font-size="7" text-anchor="end" fill="#2a2a2a" stroke="#2a2a2a" stroke-width="0.08" textLength="7.16" lengthAdjust="spacingAndGlyphs">40</text>
<line x1="421.6" y1="224" x2="424.2" y2="224" stroke="#231f20" stroke-width="1.1"/>
<text x="418.7" y="226.38" font-size="7" text-anchor="end" fill="#2a2a2a" stroke="#2a2a2a" stroke-width="0.08" textLength="7.16" lengthAdjust="spacingAndGlyphs">50</text>
<line x1="421.6" y1="215.48" x2="424.2" y2="215.48" stroke="#231f20" stroke-width="1.1"/>
<text x="418.7" y="217.86" font-size="7" text-anchor="end" fill="#2a2a2a" stroke="#2a2a2a" stroke-width="0.08" textLength="7.16" lengthAdjust="spacingAndGlyphs">60</text>
<line x1="421.6" y1="206.96" x2="424.2" y2="206.96" stroke="#231f20" stroke-width="1.1"/>
<text x="418.7" y="209.34" font-size="7" text-anchor="end" fill="#2a2a2a" stroke="#2a2a2a" stroke-width="0.08" textLength="7.16" lengthAdjust="spacingAndGlyphs">70</text>
<line x1="421.6" y1="198.44" x2="424.2" y2="198.44" stroke="#231f20" stroke-width="1.1"/>
<text x="418.7" y="200.82" font-size="7" text-anchor="end" fill="#2a2a2a" stroke="#2a2a2a" stroke-width="0.08" textLength="7.16" lengthAdjust="spacingAndGlyphs">80</text>
<line x1="421.6" y1="189.92" x2="424.2" y2="189.92" stroke="#231f20" stroke-width="1.1"/>
<text x="418.7" y="192.3" font-size="7" text-anchor="end" fill="#2a2a2a" stroke="#2a2a2a" stroke-width="0.08" textLength="7.16" lengthAdjust="spacingAndGlyphs">90</text>
<line x1="421.6" y1="181.4" x2="424.2" y2="181.4" stroke="#231f20" stroke-width="1.1"/>
<text x="418.7" y="183.78" font-size="7" text-anchor="end" fill="#2a2a2a" stroke="#2a2a2a" stroke-width="0.08" textLength="10.75" lengthAdjust="spacingAndGlyphs">100</text>
<line x1="423.65" y1="267.1" x2="466.4" y2="267.1" stroke="#231f20" stroke-width="1.1"/>
<line x1="424.2" y1="265.6" x2="466" y2="265.6" stroke="#cfd49a" stroke-width="1.1" stroke-dasharray="2.6 1.6"/>
<rect x="429.6" y="265.4" width="4.8" height="1.7" fill="#ad0b33"/>
<rect x="436.9" y="201.9" width="4.8" height="65.2" fill="#2d4d86"/>
<rect x="453" y="265.4" width="4.9" height="1.7" fill="#ad0b33"/>
<rect x="460.4" y="262.3" width="4.8" height="4.8" fill="#2d4d86"/>
<line x1="439.3" y1="188.5" x2="439.3" y2="215.4" stroke="#111" stroke-width="1"/>
<line x1="438.4" y1="188.5" x2="440.2" y2="188.5" stroke="#111" stroke-width="1"/>
<line x1="438.4" y1="215.4" x2="440.2" y2="215.4" stroke="#111" stroke-width="1"/>
<line x1="462.8" y1="260" x2="462.8" y2="264" stroke="#111" stroke-width="1"/>
<line x1="461.9" y1="260" x2="463.7" y2="260" stroke="#111" stroke-width="1"/>
<line x1="461.9" y1="264" x2="463.7" y2="264" stroke="#111" stroke-width="1"/>
<line x1="432" y1="264.3" x2="432" y2="266" stroke="#111" stroke-width="1"/>
<line x1="431.1" y1="264.3" x2="432.9" y2="264.3" stroke="#111" stroke-width="1"/>
<line x1="431.1" y1="266" x2="432.9" y2="266" stroke="#111" stroke-width="1"/>
<line x1="455.4" y1="264.3" x2="455.4" y2="266" stroke="#111" stroke-width="1"/>
<line x1="454.5" y1="264.3" x2="456.3" y2="264.3" stroke="#111" stroke-width="1"/>
<line x1="454.5" y1="266" x2="456.3" y2="266" stroke="#111" stroke-width="1"/>
<path d="M429.6 186.9 L429.6 186.9 L441.2 186.9 L441.2 186.9" stroke="#3a3a3a" stroke-width="1.2" fill="none"/>
<text x="435.7" y="187.7" font-size="7.3" text-anchor="middle" fill="#222" stroke="#222" stroke-width="0.18" letter-spacing="0.6">**</text>
<text x="435.7" y="275.8" font-size="6.6" text-anchor="middle" stroke="#231f20" stroke-width="0.12">P</text>
<text x="459.4" y="275.8" font-size="6.6" text-anchor="middle" stroke="#231f20" stroke-width="0.12">D</text>
<line x1="428.7" y1="280.6" x2="470" y2="280.6" stroke="#444" stroke-width="1.3"/>
<text x="449.3" y="289.6" font-size="6.6" text-anchor="middle" stroke="#231f20" stroke-width="0.12" textLength="20.2" lengthAdjust="spacingAndGlyphs">Cebp&#948;</text>
<rect x="374.6" y="302.05" width="2.9" height="2.9" fill="#ad0b33"/>
<text x="380.4" y="305.7" font-size="6.6" font-style="italic" stroke="#231f20" stroke-width="0.12" textLength="12.1" lengthAdjust="spacingAndGlyphs">Myc</text>
<rect x="402.1" y="302.05" width="2.9" height="2.9" fill="#2d4d86"/>
<text x="408.8" y="305.7" font-size="6.6" font-style="italic" stroke="#231f20" stroke-width="0.12" textLength="30.4" lengthAdjust="spacingAndGlyphs">Mycv394d</text>
<text x="7.8" y="331.6" font-size="12" font-weight="bold" fill="#000" stroke="#000" stroke-width="0.12" textLength="8.41" lengthAdjust="spacingAndGlyphs">H</text>
<text x="61.8" y="348.4" font-size="6.8" font-style="italic" stroke="#231f20" stroke-width="0.12" textLength="11.6" lengthAdjust="spacingAndGlyphs">Myc</text>
<text x="73.4" y="345.3" font-size="4.2" font-style="italic" stroke="#231f20" stroke-width="0.12" textLength="12.8" lengthAdjust="spacingAndGlyphs">V394D</text>
<line x1="49.2" y1="352.6" x2="99.4" y2="352.6" stroke="#444" stroke-width="1.3"/>
<text x="29.2" y="372" font-size="6.8" font-style="italic" stroke="#231f20" stroke-width="0.12" textLength="11.8" lengthAdjust="spacingAndGlyphs" transform="rotate(-4 29.2 372)">Myc</text>
<text x="46.6" y="372" font-size="6.8" stroke="#231f20" stroke-width="0.12" textLength="9" lengthAdjust="spacingAndGlyphs" transform="rotate(-42 46.6 372)">Scr</text>
<text x="58.8" y="372.2" font-size="6.8" stroke="#231f20" stroke-width="0.12" textLength="16.5" lengthAdjust="spacingAndGlyphs" transform="rotate(-42 58.8 372.2)">ShC&#945;</text>
<text x="71.8" y="372.2" font-size="6.8" stroke="#231f20" stroke-width="0.12" textLength="16.5" lengthAdjust="spacingAndGlyphs" transform="rotate(-42 71.8 372.2)">ShC&#948;</text>
<text x="90.6" y="372.2" font-size="6.8" stroke="#231f20" stroke-width="0.12" textLength="22.5" lengthAdjust="spacingAndGlyphs" transform="rotate(-42 90.6 372.2)">ShC&#945;/&#948;</text>
<rect x="27.3" y="376.5" width="69.1" height="13" fill="#e6e6e6" stroke="#3a3a3a" stroke-width="1"/>
<rect x="30" y="379.1" width="10.2" height="4.7" rx="2.2" fill="#050505" opacity="1.0" filter="url(#bl)"/>
<rect x="43" y="379.8" width="10.9" height="4.6" rx="2.2" fill="#101010" opacity="1.0" filter="url(#bl)"/>
<rect x="57.5" y="380.9" width="8.6" height="2.8" rx="1.4" fill="#222" opacity="1.0" filter="url(#bl)"/>
<rect x="70.5" y="379.5" width="10.8" height="2.5" rx="1.2" fill="#aaa" opacity="0.6" filter="url(#bl)"/>
<rect x="70.5" y="380.8" width="10.8" height="5.2" rx="2.4" fill="#000" opacity="1.0" filter="url(#bl)"/>
<rect x="84.9" y="381.5" width="8.6" height="2.2" rx="1.2" fill="#808080" opacity="1.0" filter="url(#bl)"/>
<rect x="27.3" y="391.4" width="69.1" height="12.1" fill="#e4e4e4" stroke="#3a3a3a" stroke-width="1"/>
<rect x="29.3" y="391.8" width="10.3" height="3.2" rx="1" fill="#9a9a9a" opacity="1.0" filter="url(#bl)"/>
<rect x="29.3" y="394.3" width="10.3" height="3.6" rx="1.6" fill="#0a0a0a" opacity="1.0" filter="url(#bl)"/>
<rect x="29.3" y="397.6" width="10.3" height="1.8" rx="0.8" fill="#3a3a3a" opacity="1.0" filter="url(#bl)"/>
<rect x="29.3" y="399" width="10.3" height="3.6" rx="1.6" fill="#050505" opacity="1.0" filter="url(#bl)"/>
<rect x="43" y="391.8" width="10.9" height="3.2" rx="1" fill="#9a9a9a" opacity="1.0" filter="url(#bl)"/>
<rect x="43" y="394.3" width="10.9" height="3.6" rx="1.6" fill="#0a0a0a" opacity="1.0" filter="url(#bl)"/>
<rect x="43" y="397.6" width="10.9" height="1.8" rx="0.8" fill="#3a3a3a" opacity="1.0" filter="url(#bl)"/>
<rect x="43" y="399" width="10.9" height="3.6" rx="1.6" fill="#050505" opacity="1.0" filter="url(#bl)"/>
<rect x="56.7" y="391.8" width="10.9" height="3.2" rx="1" fill="#9a9a9a" opacity="1.0" filter="url(#bl)"/>
<rect x="56.7" y="394.3" width="10.9" height="3.6" rx="1.6" fill="#0a0a0a" opacity="1.0" filter="url(#bl)"/>
<rect x="56.7" y="397.6" width="10.9" height="1.8" rx="0.8" fill="#3a3a3a" opacity="1.0" filter="url(#bl)"/>
<rect x="56.7" y="399" width="10.9" height="3.6" rx="1.6" fill="#050505" opacity="1.0" filter="url(#bl)"/>
<rect x="70.5" y="395" width="10.8" height="7.5" rx="1.5" fill="#c2c2c2" opacity="1.0" filter="url(#bl)"/>
<rect x="71" y="399.6" width="10" height="2.7" rx="1.2" fill="#8a8a8a" opacity="1.0" filter="url(#bl)"/>
<rect x="84.9" y="394" width="9.4" height="5" rx="1.5" fill="#bdbdbd" opacity="1.0" filter="url(#bl)"/>
<rect x="84.9" y="399.4" width="9.4" height="3.2" rx="1.4" fill="#3a3a3a" opacity="1.0" filter="url(#bl)"/>
<rect x="27.3" y="405.5" width="69.1" height="12.1" fill="#e0e0e0" stroke="#3a3a3a" stroke-width="1"/>
<rect x="29.8" y="410.3" width="10.2" height="3.7" rx="1.8" fill="#111" opacity="1.0" filter="url(#bl)"/>
<rect x="43" y="411.1" width="10.9" height="3.7" rx="1.8" fill="#111" opacity="1.0" filter="url(#bl)"/>
<rect x="56.7" y="411" width="11.6" height="4" rx="1.8" fill="#0a0a0a" opacity="1.0" filter="url(#bl)"/>
<rect x="71.2" y="411.4" width="10.8" height="3.6" rx="1.8" fill="#111" opacity="1.0" filter="url(#bl)"/>
<rect x="85.2" y="410.6" width="10.2" height="5" rx="2" fill="#0a0a0a" opacity="1.0" filter="url(#bl)"/>
<text x="99.7" y="385.8" font-size="7" stroke="#231f20" stroke-width="0.12" textLength="20.4" lengthAdjust="spacingAndGlyphs">Cebp&#945;</text>
<text x="99.7" y="399.6" font-size="7" stroke="#231f20" stroke-width="0.12" textLength="20.1" lengthAdjust="spacingAndGlyphs">Cebp&#948;</text>
<text x="99.7" y="414" font-size="7" stroke="#231f20" stroke-width="0.12" textLength="20.1" lengthAdjust="spacingAndGlyphs">&#946;-actin</text>
<text x="137" y="331.5" font-size="12" font-weight="bold" fill="#000" stroke="#000" stroke-width="0.12" textLength="3.23" lengthAdjust="spacingAndGlyphs">I</text>
<text x="145.2" y="381" font-size="9.2" text-anchor="middle" stroke="#231f20" stroke-width="0.12" textLength="57.5" lengthAdjust="spacingAndGlyphs" transform="rotate(-90 145.2 381)"># of CFC/1000 cells</text>
<line x1="165.9" y1="343.6" x2="165.9" y2="420.15" stroke="#231f20" stroke-width="1.1"/>
<line x1="163.3" y1="419.5" x2="165.9" y2="419.5" stroke="#231f20" stroke-width="1.1"/>
<text x="160.4" y="421.88" font-size="7" text-anchor="end" fill="#2a2a2a" stroke="#2a2a2a" stroke-width="0.08" textLength="3.58" lengthAdjust="spacingAndGlyphs">0</text>
<line x1="163.3" y1="404.93" x2="165.9" y2="404.93" stroke="#231f20" stroke-width="1.1"/>
<text x="160.4" y="407.31" font-size="7" text-anchor="end" fill="#2a2a2a" stroke="#2a2a2a" stroke-width="0.08" textLength="10.75" lengthAdjust="spacingAndGlyphs">100</text>
<line x1="163.3" y1="390.36" x2="165.9" y2="390.36" stroke="#231f20" stroke-width="1.1"/>
<text x="160.4" y="392.74" font-size="7" text-anchor="end" fill="#2a2a2a" stroke="#2a2a2a" stroke-width="0.08" textLength="10.75" lengthAdjust="spacingAndGlyphs">200</text>
<line x1="163.3" y1="375.79" x2="165.9" y2="375.79" stroke="#231f20" stroke-width="1.1"/>
<text x="160.4" y="378.17" font-size="7" text-anchor="end" fill="#2a2a2a" stroke="#2a2a2a" stroke-width="0.08" textLength="10.75" lengthAdjust="spacingAndGlyphs">300</text>
<line x1="163.3" y1="361.22" x2="165.9" y2="361.22" stroke="#231f20" stroke-width="1.1"/>
<text x="160.4" y="363.6" font-size="7" text-anchor="end" fill="#2a2a2a" stroke="#2a2a2a" stroke-width="0.08" textLength="10.75" lengthAdjust="spacingAndGlyphs">400</text>
<line x1="163.3" y1="346.65" x2="165.9" y2="346.65" stroke="#231f20" stroke-width="1.1"/>
<text x="160.4" y="349.03" font-size="7" text-anchor="end" fill="#2a2a2a" stroke="#2a2a2a" stroke-width="0.08" textLength="10.75" lengthAdjust="spacingAndGlyphs">500</text>
<line x1="165.35" y1="419.6" x2="246.9" y2="419.6" stroke="#231f20" stroke-width="1.1"/>
<rect x="176.9" y="365" width="10" height="54.6" fill="#b10a31"/>
<rect x="189.2" y="413.8" width="9.7" height="5.8" fill="#2b4c8a"/>
<rect x="201.8" y="387" width="9.7" height="32.6" fill="#6aad3e"/>
<rect x="214.2" y="393" width="9.6" height="26.6" fill="#5a2a6c"/>
<rect x="226.5" y="372.2" width="9.7" height="47.4" fill="#e3981f"/>
<line x1="181.9" y1="363.2" x2="181.9" y2="368" stroke="#111" stroke-width="1"/>
<line x1="181" y1="363.2" x2="182.8" y2="363.2" stroke="#111" stroke-width="1"/>
<line x1="181" y1="368" x2="182.8" y2="368" stroke="#111" stroke-width="1"/>
<line x1="194.05" y1="412.2" x2="194.05" y2="415.5" stroke="#111" stroke-width="1"/>
<line x1="193.15" y1="412.2" x2="194.95" y2="412.2" stroke="#111" stroke-width="1"/>
<line x1="193.15" y1="415.5" x2="194.95" y2="415.5" stroke="#111" stroke-width="1"/>
<line x1="206.6" y1="383.2" x2="206.6" y2="391.5" stroke="#111" stroke-width="1"/>
<line x1="205.7" y1="383.2" x2="207.5" y2="383.2" stroke="#111" stroke-width="1"/>
<line x1="205.7" y1="391.5" x2="207.5" y2="391.5" stroke="#111" stroke-width="1"/>
<line x1="219" y1="388.5" x2="219" y2="397" stroke="#111" stroke-width="1"/>
<line x1="218.1" y1="388.5" x2="219.9" y2="388.5" stroke="#111" stroke-width="1"/>
<line x1="218.1" y1="397" x2="219.9" y2="397" stroke="#111" stroke-width="1"/>
<line x1="231.35" y1="367.3" x2="231.35" y2="377.3" stroke="#111" stroke-width="1"/>
<line x1="230.45" y1="367.3" x2="232.25" y2="367.3" stroke="#111" stroke-width="1"/>
<line x1="230.45" y1="377.3" x2="232.25" y2="377.3" stroke="#111" stroke-width="1"/>
<path d="M181.1 364.8 Q181.1 363.2 182.1 363.2 L188.5 363.2 Q189.5 363.2 189.5 360.6 Q189.5 363.2 190.5 363.2 L194.4 363.2 Q195.4 363.2 195.4 364.8" stroke="#333" stroke-width="1" fill="none"/>
<text x="189.8" y="360.5" font-size="7.3" text-anchor="middle" fill="#222" stroke="#222" stroke-width="0.18" letter-spacing="0.6">**</text>
<path d="M193 378.9 Q193 377.3 194 377.3 L200.8 377.3 Q201.8 377.3 201.8 375 Q201.8 377.3 202.8 377.3 L209.8 377.3 Q210.8 377.3 210.8 378.9" stroke="#333" stroke-width="1" fill="none"/>
<text x="205.7" y="375.1" font-size="7.3" text-anchor="middle" fill="#222" stroke="#222" stroke-width="0.18" letter-spacing="0.6">**</text>
<line x1="203.8" y1="381.5" x2="223.1" y2="381.5" stroke="#333" stroke-width="1.1"/>
<path d="M217.2 369.6 Q217.2 368 218.2 368 L222.8 368 Q223.8 368 223.8 366 Q223.8 368 224.8 368 L230.2 368 Q231.2 368 231.2 369.6" stroke="#333" stroke-width="1" fill="none"/>
<text x="224.1" y="366.2" font-size="7.3" text-anchor="middle" fill="#222" stroke="#222" stroke-width="0.18" letter-spacing="0.6">**</text>
<text x="206.5" y="430.5" font-size="6.9" text-anchor="middle" stroke="#231f20" stroke-width="0.12" textLength="12.3" lengthAdjust="spacingAndGlyphs">CFC</text>
<rect x="175.8" y="437.45" width="3.1" height="3.1" fill="#b10a31"/>
<text x="181.6" y="441.3" font-size="6.6" stroke="#231f20" stroke-width="0.12" textLength="12.6" lengthAdjust="spacingAndGlyphs">Myc</text>
<rect x="209.6" y="437.45" width="3.1" height="3.1" fill="#2b4c8a"/>
<text x="215.8" y="441.3" font-size="6.6" stroke="#231f20" stroke-width="0.12" textLength="8.9" lengthAdjust="spacingAndGlyphs">Scr</text>
<rect x="175.8" y="447.65" width="3.1" height="3.1" fill="#6aad3e"/>
<text x="181.6" y="451.5" font-size="6.6" stroke="#231f20" stroke-width="0.12" textLength="16" lengthAdjust="spacingAndGlyphs">shC&#945;</text>
<rect x="209.6" y="447.65" width="3.1" height="3.1" fill="#5a2a6c"/>
<text x="215.8" y="451.5" font-size="6.6" stroke="#231f20" stroke-width="0.12" textLength="15" lengthAdjust="spacingAndGlyphs">shC&#948;</text>
<rect x="175.8" y="459.25" width="3.1" height="3.1" fill="#e3981f"/>
<text x="181.6" y="463.1" font-size="6.6" stroke="#231f20" stroke-width="0.12" textLength="39.1" lengthAdjust="spacingAndGlyphs">shC&#945; + shC&#948;</text>
<text x="262.3" y="332.3" font-size="12" font-weight="bold" fill="#000" stroke="#000" stroke-width="0.12" textLength="6.47" lengthAdjust="spacingAndGlyphs">J</text>
<text x="270.2" y="381.3" font-size="9.2" text-anchor="middle" stroke="#231f20" stroke-width="0.12" textLength="56.6" lengthAdjust="spacingAndGlyphs" transform="rotate(-90 270.2 381.3)"># of CFC/1000 cells</text>
<line x1="291.8" y1="341.8" x2="291.8" y2="423.25" stroke="#231f20" stroke-width="1.1"/>
<line x1="289.2" y1="419.2" x2="291.8" y2="419.2" stroke="#231f20" stroke-width="1.1"/>
<text x="286.3" y="421.58" font-size="7" text-anchor="end" fill="#2a2a2a" stroke="#2a2a2a" stroke-width="0.08" textLength="3.58" lengthAdjust="spacingAndGlyphs">0</text>
<line x1="289.2" y1="404.2" x2="291.8" y2="404.2" stroke="#231f20" stroke-width="1.1"/>
<text x="286.3" y="406.58" font-size="7" text-anchor="end" fill="#2a2a2a" stroke="#2a2a2a" stroke-width="0.08" textLength="10.75" lengthAdjust="spacingAndGlyphs">100</text>
<line x1="289.2" y1="389.2" x2="291.8" y2="389.2" stroke="#231f20" stroke-width="1.1"/>
<text x="286.3" y="391.58" font-size="7" text-anchor="end" fill="#2a2a2a" stroke="#2a2a2a" stroke-width="0.08" textLength="10.75" lengthAdjust="spacingAndGlyphs">200</text>
<line x1="289.2" y1="374.2" x2="291.8" y2="374.2" stroke="#231f20" stroke-width="1.1"/>
<text x="286.3" y="376.58" font-size="7" text-anchor="end" fill="#2a2a2a" stroke="#2a2a2a" stroke-width="0.08" textLength="10.75" lengthAdjust="spacingAndGlyphs">300</text>
<line x1="289.2" y1="359.2" x2="291.8" y2="359.2" stroke="#231f20" stroke-width="1.1"/>
<text x="286.3" y="361.58" font-size="7" text-anchor="end" fill="#2a2a2a" stroke="#2a2a2a" stroke-width="0.08" textLength="10.75" lengthAdjust="spacingAndGlyphs">400</text>
<line x1="289.2" y1="344.2" x2="291.8" y2="344.2" stroke="#231f20" stroke-width="1.1"/>
<text x="286.3" y="346.58" font-size="7" text-anchor="end" fill="#2a2a2a" stroke="#2a2a2a" stroke-width="0.08" textLength="10.75" lengthAdjust="spacingAndGlyphs">500</text>
<line x1="290.24" y1="416.2" x2="291.8" y2="416.2" stroke="#231f20" stroke-width="0.88"/>
<line x1="290.24" y1="413.2" x2="291.8" y2="413.2" stroke="#231f20" stroke-width="0.88"/>
<line x1="290.24" y1="410.2" x2="291.8" y2="410.2" stroke="#231f20" stroke-width="0.88"/>
<line x1="290.24" y1="407.2" x2="291.8" y2="407.2" stroke="#231f20" stroke-width="0.88"/>
<line x1="290.24" y1="401.2" x2="291.8" y2="401.2" stroke="#231f20" stroke-width="0.88"/>
<line x1="290.24" y1="398.2" x2="291.8" y2="398.2" stroke="#231f20" stroke-width="0.88"/>
<line x1="290.24" y1="395.2" x2="291.8" y2="395.2" stroke="#231f20" stroke-width="0.88"/>
<line x1="290.24" y1="392.2" x2="291.8" y2="392.2" stroke="#231f20" stroke-width="0.88"/>
<line x1="290.24" y1="386.2" x2="291.8" y2="386.2" stroke="#231f20" stroke-width="0.88"/>
<line x1="290.24" y1="383.2" x2="291.8" y2="383.2" stroke="#231f20" stroke-width="0.88"/>
<line x1="290.24" y1="380.2" x2="291.8" y2="380.2" stroke="#231f20" stroke-width="0.88"/>
<line x1="290.24" y1="377.2" x2="291.8" y2="377.2" stroke="#231f20" stroke-width="0.88"/>
<line x1="290.24" y1="371.2" x2="291.8" y2="371.2" stroke="#231f20" stroke-width="0.88"/>
<line x1="290.24" y1="368.2" x2="291.8" y2="368.2" stroke="#231f20" stroke-width="0.88"/>
<line x1="290.24" y1="365.2" x2="291.8" y2="365.2" stroke="#231f20" stroke-width="0.88"/>
<line x1="290.24" y1="362.2" x2="291.8" y2="362.2" stroke="#231f20" stroke-width="0.88"/>
<line x1="290.24" y1="356.2" x2="291.8" y2="356.2" stroke="#231f20" stroke-width="0.88"/>
<line x1="290.24" y1="353.2" x2="291.8" y2="353.2" stroke="#231f20" stroke-width="0.88"/>
<line x1="290.24" y1="350.2" x2="291.8" y2="350.2" stroke="#231f20" stroke-width="0.88"/>
<line x1="290.24" y1="347.2" x2="291.8" y2="347.2" stroke="#231f20" stroke-width="0.88"/>
<rect x="293.8" y="368.8" width="7" height="50.4" fill="#5c3a17"/>
<rect x="304.1" y="383" width="7.5" height="36.2" fill="#c9c9ce"/>
<rect x="314.6" y="385" width="7.7" height="34.2" fill="#e9b71f"/>
<rect x="325.8" y="373.6" width="7.5" height="45.6" fill="#5c3a17"/>
<rect x="336.3" y="412.7" width="7.5" height="6.5" fill="#c9c9ce"/>
<rect x="346.9" y="412.2" width="7.8" height="7" fill="#e9b71f"/>
<rect x="358.2" y="366.5" width="7.5" height="52.7" fill="#5c3a17"/>
<rect x="368.6" y="396" width="7.5" height="23.2" fill="#c9c9ce"/>
<rect x="378.8" y="390.7" width="7.8" height="28.5" fill="#e9b71f"/>
<rect x="390.2" y="369.8" width="7.5" height="49.4" fill="#5c3a17"/>
<rect x="400.7" y="394.3" width="7.5" height="24.9" fill="#c9c9ce"/>
<rect x="410.8" y="381.2" width="7.8" height="38" fill="#e9b71f"/>
<rect x="421.9" y="360.7" width="7.5" height="58.5" fill="#5c3a17"/>
<rect x="432.4" y="379.6" width="7.5" height="39.6" fill="#c9c9ce"/>
<rect x="443.1" y="377.6" width="7.6" height="41.6" fill="#e9b71f"/>
<line x1="297.3" y1="361.4" x2="297.3" y2="375.6" stroke="#111" stroke-width="1"/>
<line x1="296.4" y1="361.4" x2="298.2" y2="361.4" stroke="#111" stroke-width="1"/>
<line x1="296.4" y1="375.6" x2="298.2" y2="375.6" stroke="#111" stroke-width="1"/>
<line x1="307.85" y1="378.9" x2="307.85" y2="387.4" stroke="#111" stroke-width="1"/>
<line x1="306.95" y1="378.9" x2="308.75" y2="378.9" stroke="#111" stroke-width="1"/>
<line x1="306.95" y1="387.4" x2="308.75" y2="387.4" stroke="#111" stroke-width="1"/>
<line x1="318.45" y1="380.3" x2="318.45" y2="389.3" stroke="#111" stroke-width="1"/>
<line x1="317.55" y1="380.3" x2="319.35" y2="380.3" stroke="#111" stroke-width="1"/>
<line x1="317.55" y1="389.3" x2="319.35" y2="389.3" stroke="#111" stroke-width="1"/>
<line x1="329.55" y1="370.2" x2="329.55" y2="376.9" stroke="#111" stroke-width="1"/>
<line x1="328.65" y1="370.2" x2="330.45" y2="370.2" stroke="#111" stroke-width="1"/>
<line x1="328.65" y1="376.9" x2="330.45" y2="376.9" stroke="#111" stroke-width="1"/>
<line x1="340.05" y1="408.7" x2="340.05" y2="416.2" stroke="#111" stroke-width="1"/>
<line x1="339.15" y1="408.7" x2="340.95" y2="408.7" stroke="#111" stroke-width="1"/>
<line x1="339.15" y1="416.2" x2="340.95" y2="416.2" stroke="#111" stroke-width="1"/>
<line x1="350.8" y1="409.2" x2="350.8" y2="414.3" stroke="#111" stroke-width="1"/>
<line x1="349.9" y1="409.2" x2="351.7" y2="409.2" stroke="#111" stroke-width="1"/>
<line x1="349.9" y1="414.3" x2="351.7" y2="414.3" stroke="#111" stroke-width="1"/>
<line x1="361.95" y1="363.5" x2="361.95" y2="369.5" stroke="#111" stroke-width="1"/>
<line x1="361.05" y1="363.5" x2="362.85" y2="363.5" stroke="#111" stroke-width="1"/>
<line x1="361.05" y1="369.5" x2="362.85" y2="369.5" stroke="#111" stroke-width="1"/>
<line x1="372.35" y1="391" x2="372.35" y2="401" stroke="#111" stroke-width="1"/>
<line x1="371.45" y1="391" x2="373.25" y2="391" stroke="#111" stroke-width="1"/>
<line x1="371.45" y1="401" x2="373.25" y2="401" stroke="#111" stroke-width="1"/>
<line x1="382.7" y1="388" x2="382.7" y2="393.5" stroke="#111" stroke-width="1"/>
<line x1="381.8" y1="388" x2="383.6" y2="388" stroke="#111" stroke-width="1"/>
<line x1="381.8" y1="393.5" x2="383.6" y2="393.5" stroke="#111" stroke-width="1"/>
<line x1="393.95" y1="362" x2="393.95" y2="377" stroke="#111" stroke-width="1"/>
<line x1="393.05" y1="362" x2="394.85" y2="362" stroke="#111" stroke-width="1"/>
<line x1="393.05" y1="377" x2="394.85" y2="377" stroke="#111" stroke-width="1"/>
<line x1="404.45" y1="385" x2="404.45" y2="403.5" stroke="#111" stroke-width="1"/>
<line x1="403.55" y1="385" x2="405.35" y2="385" stroke="#111" stroke-width="1"/>
<line x1="403.55" y1="403.5" x2="405.35" y2="403.5" stroke="#111" stroke-width="1"/>
<line x1="414.7" y1="377" x2="414.7" y2="386" stroke="#111" stroke-width="1"/>
<line x1="413.8" y1="377" x2="415.6" y2="377" stroke="#111" stroke-width="1"/>
<line x1="413.8" y1="386" x2="415.6" y2="386" stroke="#111" stroke-width="1"/>
<line x1="425.65" y1="358.8" x2="425.65" y2="362.5" stroke="#111" stroke-width="1"/>
<line x1="424.75" y1="358.8" x2="426.55" y2="358.8" stroke="#111" stroke-width="1"/>
<line x1="424.75" y1="362.5" x2="426.55" y2="362.5" stroke="#111" stroke-width="1"/>
<line x1="436.15" y1="377" x2="436.15" y2="382" stroke="#111" stroke-width="1"/>
<line x1="435.25" y1="377" x2="437.05" y2="377" stroke="#111" stroke-width="1"/>
<line x1="435.25" y1="382" x2="437.05" y2="382" stroke="#111" stroke-width="1"/>
<line x1="446.9" y1="375" x2="446.9" y2="380" stroke="#111" stroke-width="1"/>
<line x1="446" y1="375" x2="447.8" y2="375" stroke="#111" stroke-width="1"/>
<line x1="446" y1="380" x2="447.8" y2="380" stroke="#111" stroke-width="1"/>
<path d="M295.3 419.5 Q295.3 421.3 296.3 421.3 L307.05 421.3 Q308.05 421.3 308.05 424.7 Q308.05 421.3 309.05 421.3 L317.8 421.3 Q318.8 421.3 318.8 419.5" stroke="#333" stroke-width="1" fill="none"/>
<path d="M327.3 419.5 Q327.3 421.3 328.3 421.3 L339.25 421.3 Q340.25 421.3 340.25 424.7 Q340.25 421.3 341.25 421.3 L350.2 421.3 Q351.2 421.3 351.2 419.5" stroke="#333" stroke-width="1" fill="none"/>
<path d="M359.7 419.5 Q359.7 421.3 360.7 421.3 L371.4 421.3 Q372.4 421.3 372.4 424.7 Q372.4 421.3 373.4 421.3 L382.1 421.3 Q383.1 421.3 383.1 419.5" stroke="#333" stroke-width="1" fill="none"/>
<path d="M391.7 419.5 Q391.7 421.3 392.7 421.3 L403.4 421.3 Q404.4 421.3 404.4 424.7 Q404.4 421.3 405.4 421.3 L414.1 421.3 Q415.1 421.3 415.1 419.5" stroke="#333" stroke-width="1" fill="none"/>
<path d="M423.4 419.5 Q423.4 421.3 424.4 421.3 L435.3 421.3 Q436.3 421.3 436.3 424.7 Q436.3 421.3 437.3 421.3 L446.2 421.3 Q447.2 421.3 447.2 419.5" stroke="#333" stroke-width="1" fill="none"/>
<path d="M298.3 365.7 L298.3 365 Q298.3 364.1 299.2 364.1 L310.6 364.1 Q311.5 364.1 311.5 365 L311.5 365.7" stroke="#333" stroke-width="1" fill="none"/>
<line x1="305" y1="364.1" x2="305" y2="362.3" stroke="#333" stroke-width="1"/>
<text x="305.3" y="362.1" font-size="7.3" text-anchor="middle" fill="#222" stroke="#222" stroke-width="0.18" letter-spacing="0.6">**</text>
<line x1="305.5" y1="369.5" x2="316.9" y2="369.5" stroke="#333" stroke-width="1.1"/>
<path d="M329.3 368.8 L329.3 368.1 Q329.3 367.2 330.2 367.2 L341.6 367.2 Q342.5 367.2 342.5 368.1 L342.5 368.8" stroke="#333" stroke-width="1" fill="none"/>
<line x1="336" y1="367.2" x2="336" y2="365.4" stroke="#333" stroke-width="1"/>
<text x="336.1" y="365.1" font-size="7.3" text-anchor="middle" fill="#222" stroke="#222" stroke-width="0.18" letter-spacing="0.6">**</text>
<line x1="336.4" y1="372.9" x2="348.1" y2="372.9" stroke="#333" stroke-width="1.1"/>
<path d="M361.4 363.9 L361.4 363.2 Q361.4 362.3 362.3 362.3 L373.6 362.3 Q374.5 362.3 374.5 363.2 L374.5 363.9" stroke="#333" stroke-width="1" fill="none"/>
<line x1="368" y1="362.3" x2="368" y2="360.5" stroke="#333" stroke-width="1"/>
<text x="368.3" y="359.8" font-size="7.3" text-anchor="middle" fill="#222" stroke="#222" stroke-width="0.18" letter-spacing="0.6">**</text>
<line x1="369.6" y1="368.2" x2="381.7" y2="368.2" stroke="#333" stroke-width="1.1"/>
<path d="M393.3 363.9 L393.3 363.2 Q393.3 362.3 394.2 362.3 L405.6 362.3 Q406.5 362.3 406.5 363.2 L406.5 363.9" stroke="#333" stroke-width="1" fill="none"/>
<line x1="401.3" y1="362.3" x2="401.3" y2="360.5" stroke="#333" stroke-width="1"/>
<text x="401.6" y="360.4" font-size="7.3" text-anchor="middle" fill="#222" stroke="#222" stroke-width="0.18" letter-spacing="0.6">**</text>
<line x1="401" y1="367.2" x2="413" y2="367.2" stroke="#333" stroke-width="1.1"/>
<path d="M425.8 360 L425.8 359.3 Q425.8 358.4 426.7 358.4 L438.1 358.4 Q439 358.4 439 359.3 L439 360" stroke="#333" stroke-width="1" fill="none"/>
<line x1="433.3" y1="358.4" x2="433.3" y2="356.6" stroke="#333" stroke-width="1"/>
<text x="433.6" y="356.1" font-size="7.3" text-anchor="middle" fill="#222" stroke="#222" stroke-width="0.18" letter-spacing="0.6">**</text>
<line x1="433.6" y1="363" x2="446" y2="363" stroke="#333" stroke-width="1.1"/>
<text x="339" y="405.8" font-size="6.4" text-anchor="middle" font-style="italic" fill="#333" stroke="#333" stroke-width="0.1">##</text>
<text x="349.4" y="406.4" font-size="6.4" text-anchor="middle" font-style="italic" fill="#333" stroke="#333" stroke-width="0.1">##</text>
<text x="372.3" y="382" font-size="6.4" text-anchor="middle" font-style="italic" fill="#333" stroke="#333" stroke-width="0.1">##</text>
<text x="372.3" y="391.6" font-size="6.4" text-anchor="middle" fill="#333" stroke="#333" stroke-width="0.1">$$</text>
<text x="382.4" y="384.7" font-size="6.4" text-anchor="middle" font-style="italic" fill="#333" stroke="#333" stroke-width="0.1">#</text>
<text x="404.3" y="377.6" font-size="6.4" text-anchor="middle" font-style="italic" fill="#333" stroke="#333" stroke-width="0.1">#</text>
<text x="404.3" y="385.7" font-size="6.4" text-anchor="middle" fill="#333" stroke="#333" stroke-width="0.1">$$</text>
<text x="414.7" y="374.3" font-size="6.4" text-anchor="middle" fill="#333" stroke="#333" stroke-width="0.1">$$</text>
<text x="435.9" y="374.3" font-size="6.4" text-anchor="middle" fill="#333" stroke="#333" stroke-width="0.1">$$</text>
<text x="446.9" y="373.3" font-size="6.4" text-anchor="middle" fill="#333" stroke="#333" stroke-width="0.1">$$</text>
<text x="307.2" y="433" font-size="6.7" text-anchor="middle" font-style="italic" stroke="#231f20" stroke-width="0.12" textLength="12.2" lengthAdjust="spacingAndGlyphs">Myc</text>
<text x="340.3" y="433" font-size="6.7" text-anchor="middle" font-style="italic" stroke="#231f20" stroke-width="0.12" textLength="8" lengthAdjust="spacingAndGlyphs">scr</text>
<text x="373.6" y="433" font-size="6.7" text-anchor="middle" font-style="italic" stroke="#231f20" stroke-width="0.12" textLength="16.5" lengthAdjust="spacingAndGlyphs">shC&#945;</text>
<text x="404.8" y="433" font-size="6.7" text-anchor="middle" font-style="italic" stroke="#231f20" stroke-width="0.12" textLength="15" lengthAdjust="spacingAndGlyphs">shC&#948;</text>
<text x="436.9" y="433" font-size="6.7" text-anchor="middle" font-style="italic" stroke="#231f20" stroke-width="0.12" textLength="22.5" lengthAdjust="spacingAndGlyphs">shC&#945;/&#948;</text>
<line x1="328.5" y1="442" x2="456.2" y2="442" stroke="#444" stroke-width="1.3"/>
<text x="380" y="454.5" font-size="6.8" font-style="italic" stroke="#231f20" stroke-width="0.12" textLength="12" lengthAdjust="spacingAndGlyphs">Myc</text>
<text x="392.2" y="451.3" font-size="4.2" font-style="italic" stroke="#231f20" stroke-width="0.12" textLength="13" lengthAdjust="spacingAndGlyphs">V394D</text>
<rect x="333.5" y="463.6" width="2.8" height="2.8" fill="#5c3a17"/>
<text x="339.2" y="467.3" font-size="6.6" stroke="#231f20" stroke-width="0.12" textLength="11" lengthAdjust="spacingAndGlyphs">Veh</text>
<rect x="360.4" y="463.6" width="2.8" height="2.8" fill="#c9c9ce"/>
<text x="365.6" y="467.3" font-size="6.6" stroke="#231f20" stroke-width="0.12" textLength="14" lengthAdjust="spacingAndGlyphs">DNR</text>
<rect x="391.2" y="463.6" width="2.8" height="2.8" fill="#e9b71f"/>
<text x="397" y="467.3" font-size="6.6" stroke="#231f20" stroke-width="0.12" textLength="17.2" lengthAdjust="spacingAndGlyphs">Ara-C</text>
<text x="7.4" y="487.5" font-size="12" font-weight="bold" fill="#000" stroke="#000" stroke-width="0.12" textLength="8.41" lengthAdjust="spacingAndGlyphs">K</text>
<text x="57.7" y="503.3" font-size="6.8" font-style="italic" stroke="#231f20" stroke-width="0.12" textLength="10.5" lengthAdjust="spacingAndGlyphs">Myc</text>
<text x="68" y="500.1" font-size="4.2" font-style="italic" stroke="#231f20" stroke-width="0.12" textLength="10" lengthAdjust="spacingAndGlyphs">fl/fl</text>
<line x1="29.9" y1="504.5" x2="105.9" y2="504.5" stroke="#333" stroke-width="1.2"/>
<text x="31.9" y="527" font-size="6.8" stroke="#231f20" stroke-width="0.12" textLength="8.4" lengthAdjust="spacingAndGlyphs" transform="rotate(-45 31.9 527)">EV</text>
<text x="48.5" y="527" font-size="6.8" stroke="#231f20" stroke-width="0.12" textLength="20.5" lengthAdjust="spacingAndGlyphs" transform="rotate(-45 48.5 527)">Cebp&#945;</text>
<text x="70.6" y="527" font-size="6.8" stroke="#231f20" stroke-width="0.12" textLength="19" lengthAdjust="spacingAndGlyphs" transform="rotate(-45 70.6 527)">Cebp&#948;</text>
<text x="88.8" y="527" font-size="6.8" stroke="#231f20" stroke-width="0.12" textLength="26" lengthAdjust="spacingAndGlyphs" transform="rotate(-45 88.8 527)">Cebp&#945;/&#948;</text>
<rect x="26.6" y="531.4" width="69.6" height="16.1" fill="#f3f3f3" stroke="#666" stroke-width="1"/>
<rect x="46.7" y="532.5" width="12" height="5" rx="1" fill="#e6e6e6" opacity="1.0" filter="url(#bl2)"/>
<rect x="80.5" y="532.5" width="13.5" height="6" rx="1" fill="#e6e6e6" opacity="1.0" filter="url(#bl2)"/>
<rect x="29.5" y="538.2" width="12" height="2.2" rx="1" fill="#cdcdcd" opacity="1.0" filter="url(#bl2)"/>
<rect x="46.7" y="537.7" width="12" height="3.5" rx="1.6" fill="#303030" opacity="1.0" filter="url(#bl2)"/>
<rect x="64" y="539.2" width="10.5" height="2.4" rx="1" fill="#d2d2d2" opacity="1.0" filter="url(#bl2)"/>
<rect x="80.5" y="539.2" width="13.5" height="3.5" rx="1.6" fill="#484848" opacity="1.0" filter="url(#bl2)"/>
<rect x="26.6" y="549.1" width="69.6" height="13.6" fill="#efefef" stroke="#333" stroke-width="1"/>
<rect x="28.5" y="553" width="10" height="3.5" rx="1" fill="#d6d6d6" opacity="1.0" filter="url(#bl2)"/>
<rect x="46" y="553" width="12" height="3.5" rx="1" fill="#cdcdcd" opacity="1.0" filter="url(#bl2)"/>
<rect x="28" y="557.6" width="10.5" height="2.3" rx="1" fill="#2a2a2a" opacity="1.0" filter="url(#bl)"/>
<rect x="46" y="557.2" width="12" height="2.7" rx="1" fill="#0a0a0a" opacity="1.0" filter="url(#bl)"/>
<rect x="62.5" y="553.4" width="15" height="7.6" rx="3" fill="#000" opacity="1.0" filter="url(#bl)"/>
<rect x="79.7" y="552.6" width="15.8" height="8.2" rx="3" fill="#000" opacity="1.0" filter="url(#bl)"/>
<rect x="26.6" y="564" width="69.6" height="12.7" fill="#8e8e8e" stroke="#333" stroke-width="1"/>
<rect x="28.7" y="566.8" width="12" height="5.4" rx="2.5" fill="#050505" opacity="1.0" filter="url(#bl)"/>
<rect x="45.2" y="567" width="13.5" height="5.4" rx="2.5" fill="#050505" opacity="1.0" filter="url(#bl)"/>
<rect x="63.2" y="568.2" width="15" height="4.6" rx="2.5" fill="#050505" opacity="1.0" filter="url(#bl)"/>
<rect x="81.2" y="569.8" width="12.8" height="4" rx="2.2" fill="#050505" opacity="1.0" filter="url(#bl)"/>
<text x="99.8" y="542.6" font-size="7" stroke="#231f20" stroke-width="0.12" textLength="20.3" lengthAdjust="spacingAndGlyphs">Cebp&#945;</text>
<text x="99.8" y="561.4" font-size="7" stroke="#231f20" stroke-width="0.12" textLength="20" lengthAdjust="spacingAndGlyphs">Cebp&#948;</text>
<text x="99.8" y="574" font-size="7" stroke="#231f20" stroke-width="0.12" textLength="20" lengthAdjust="spacingAndGlyphs">&#946;-actin</text>
<text x="136.7" y="487.8" font-size="12" font-weight="bold" fill="#000" stroke="#000" stroke-width="0.12" textLength="7.11" lengthAdjust="spacingAndGlyphs">L</text>
<text x="144.3" y="536.7" font-size="9.2" text-anchor="middle" stroke="#231f20" stroke-width="0.12" textLength="58.7" lengthAdjust="spacingAndGlyphs" transform="rotate(-90 144.3 536.7)"># of CFC/1000 cells</text>
<line x1="166.3" y1="495" x2="166.3" y2="578.55" stroke="#231f20" stroke-width="1.1"/>
<line x1="163.7" y1="578" x2="166.3" y2="578" stroke="#231f20" stroke-width="1.1"/>
<text x="160.8" y="580.38" font-size="7" text-anchor="end" fill="#2a2a2a" stroke="#2a2a2a" stroke-width="0.08" textLength="3.58" lengthAdjust="spacingAndGlyphs">0</text>
<line x1="163.7" y1="551.04" x2="166.3" y2="551.04" stroke="#231f20" stroke-width="1.1"/>
<text x="160.8" y="553.42" font-size="7" text-anchor="end" fill="#2a2a2a" stroke="#2a2a2a" stroke-width="0.08" textLength="10.75" lengthAdjust="spacingAndGlyphs">200</text>
<line x1="163.7" y1="524.08" x2="166.3" y2="524.08" stroke="#231f20" stroke-width="1.1"/>
<text x="160.8" y="526.46" font-size="7" text-anchor="end" fill="#2a2a2a" stroke="#2a2a2a" stroke-width="0.08" textLength="10.75" lengthAdjust="spacingAndGlyphs">400</text>
<line x1="163.7" y1="497.12" x2="166.3" y2="497.12" stroke="#231f20" stroke-width="1.1"/>
<text x="160.8" y="499.5" font-size="7" text-anchor="end" fill="#2a2a2a" stroke="#2a2a2a" stroke-width="0.08" textLength="10.75" lengthAdjust="spacingAndGlyphs">600</text>
<line x1="165.75" y1="578" x2="234.9" y2="578" stroke="#231f20" stroke-width="1.1"/>
<line x1="166.3" y1="578" x2="166.3" y2="580.6" stroke="#231f20" stroke-width="1.1"/>
<rect x="178" y="521.1" width="10.2" height="56.9" fill="#2b4c8a"/>
<rect x="191.1" y="560.1" width="10.7" height="17.9" fill="#6aad3e"/>
<rect x="204.6" y="568.9" width="10.4" height="9.1" fill="#5a2a6c"/>
<rect x="217.7" y="576.9" width="10.5" height="1.1" fill="#e3981f"/>
<line x1="183.1" y1="514.7" x2="183.1" y2="527.5" stroke="#111" stroke-width="1"/>
<line x1="182.2" y1="514.7" x2="184" y2="514.7" stroke="#111" stroke-width="1"/>
<line x1="182.2" y1="527.5" x2="184" y2="527.5" stroke="#111" stroke-width="1"/>
<line x1="196.45" y1="554.2" x2="196.45" y2="566.5" stroke="#111" stroke-width="1"/>
<line x1="195.55" y1="554.2" x2="197.35" y2="554.2" stroke="#111" stroke-width="1"/>
<line x1="195.55" y1="566.5" x2="197.35" y2="566.5" stroke="#111" stroke-width="1"/>
<line x1="209.8" y1="563.6" x2="209.8" y2="573.7" stroke="#111" stroke-width="1"/>
<line x1="208.9" y1="563.6" x2="210.7" y2="563.6" stroke="#111" stroke-width="1"/>
<line x1="208.9" y1="573.7" x2="210.7" y2="573.7" stroke="#111" stroke-width="1"/>
<line x1="222.95" y1="575.3" x2="222.95" y2="577.5" stroke="#111" stroke-width="1"/>
<line x1="222.05" y1="575.3" x2="223.85" y2="575.3" stroke="#111" stroke-width="1"/>
<line x1="222.05" y1="577.5" x2="223.85" y2="577.5" stroke="#111" stroke-width="1"/>
<path d="M186.3 520.0999999999999 L186.3 516.3 L203.0 516.3 L203.0 519.9" stroke="#333" stroke-width="1.1" fill="none"/>
<line x1="194.3" y1="512.7" x2="194.3" y2="516.3" stroke="#333" stroke-width="1.1"/>
<text x="194.6" y="512.4" font-size="7.3" text-anchor="middle" fill="#222" stroke="#222" stroke-width="0.18" letter-spacing="0.6">**</text>
<path d="M205.4 548.5 L205.4 544.7 L222.2 544.7 L222.2 548.3000000000001" stroke="#333" stroke-width="1.1" fill="none"/>
<line x1="213.7" y1="541.1" x2="213.7" y2="544.7" stroke="#333" stroke-width="1.1"/>
<text x="214" y="540.6" font-size="7.3" text-anchor="middle" fill="#222" stroke="#222" stroke-width="0.18" letter-spacing="0.6">**</text>
<line x1="194" y1="550.1" x2="212.6" y2="550.1" stroke="#8a8a8a" stroke-width="1.6"/>
<text x="201.2" y="589.5" font-size="6.8" text-anchor="middle" font-style="italic" stroke="#231f20" stroke-width="0.12" textLength="12" lengthAdjust="spacingAndGlyphs">Myc</text>
<rect x="160.9" y="598.45" width="2.7" height="2.7" fill="#2b4c8a"/>
<text x="166.8" y="602.1" font-size="6.7" stroke="#231f20" stroke-width="0.12" textLength="8.1" lengthAdjust="spacingAndGlyphs">EV</text>
<rect x="181.2" y="598.45" width="2.7" height="2.7" fill="#6aad3e"/>
<text x="187.5" y="602.1" font-size="6.7" stroke="#231f20" stroke-width="0.12" textLength="20.3" lengthAdjust="spacingAndGlyphs">Cebp&#945;</text>
<rect x="216.3" y="598.45" width="2.7" height="2.7" fill="#5a2a6c"/>
<text x="221.1" y="602.1" font-size="6.7" stroke="#231f20" stroke-width="0.12" textLength="19.5" lengthAdjust="spacingAndGlyphs">Cebp&#948;</text>
<rect x="160.9" y="607.45" width="2.7" height="2.7" fill="#e3981f"/>
<text x="166.8" y="611.1" font-size="6.7" stroke="#231f20" stroke-width="0.12" textLength="49.6" lengthAdjust="spacingAndGlyphs">Cebp&#945; + Cebp&#948;</text>
<text x="251.8" y="487.2" font-size="12" font-weight="bold" fill="#000" stroke="#000" stroke-width="0.12" textLength="9.7" lengthAdjust="spacingAndGlyphs">M</text>
<text x="259.3" y="537" font-size="9.2" text-anchor="middle" stroke="#231f20" stroke-width="0.12" textLength="56.3" lengthAdjust="spacingAndGlyphs" transform="rotate(-90 259.3 537)"># of CFC/1000 cells</text>
<line x1="281.5" y1="495.2" x2="281.5" y2="578.75" stroke="#231f20" stroke-width="1.1"/>
<line x1="278.9" y1="578.2" x2="281.5" y2="578.2" stroke="#231f20" stroke-width="1.1"/>
<text x="276" y="580.58" font-size="7" text-anchor="end" fill="#2a2a2a" stroke="#2a2a2a" stroke-width="0.08" textLength="3.58" lengthAdjust="spacingAndGlyphs">0</text>
<line x1="278.9" y1="569.22" x2="281.5" y2="569.22" stroke="#231f20" stroke-width="1.1"/>
<text x="276" y="571.6" font-size="7" text-anchor="end" fill="#2a2a2a" stroke="#2a2a2a" stroke-width="0.08" textLength="7.16" lengthAdjust="spacingAndGlyphs">50</text>
<line x1="278.9" y1="560.23" x2="281.5" y2="560.23" stroke="#231f20" stroke-width="1.1"/>
<text x="276" y="562.61" font-size="7" text-anchor="end" fill="#2a2a2a" stroke="#2a2a2a" stroke-width="0.08" textLength="10.75" lengthAdjust="spacingAndGlyphs">100</text>
<line x1="278.9" y1="551.25" x2="281.5" y2="551.25" stroke="#231f20" stroke-width="1.1"/>
<text x="276" y="553.62" font-size="7" text-anchor="end" fill="#2a2a2a" stroke="#2a2a2a" stroke-width="0.08" textLength="10.75" lengthAdjust="spacingAndGlyphs">150</text>
<line x1="278.9" y1="542.26" x2="281.5" y2="542.26" stroke="#231f20" stroke-width="1.1"/>
<text x="276" y="544.64" font-size="7" text-anchor="end" fill="#2a2a2a" stroke="#2a2a2a" stroke-width="0.08" textLength="10.75" lengthAdjust="spacingAndGlyphs">200</text>
<line x1="278.9" y1="533.28" x2="281.5" y2="533.28" stroke="#231f20" stroke-width="1.1"/>
<text x="276" y="535.66" font-size="7" text-anchor="end" fill="#2a2a2a" stroke="#2a2a2a" stroke-width="0.08" textLength="10.75" lengthAdjust="spacingAndGlyphs">250</text>
<line x1="278.9" y1="524.29" x2="281.5" y2="524.29" stroke="#231f20" stroke-width="1.1"/>
<text x="276" y="526.67" font-size="7" text-anchor="end" fill="#2a2a2a" stroke="#2a2a2a" stroke-width="0.08" textLength="10.75" lengthAdjust="spacingAndGlyphs">300</text>
<line x1="278.9" y1="515.31" x2="281.5" y2="515.31" stroke="#231f20" stroke-width="1.1"/>
<text x="276" y="517.69" font-size="7" text-anchor="end" fill="#2a2a2a" stroke="#2a2a2a" stroke-width="0.08" textLength="10.75" lengthAdjust="spacingAndGlyphs">350</text>
<line x1="278.9" y1="506.32" x2="281.5" y2="506.32" stroke="#231f20" stroke-width="1.1"/>
<text x="276" y="508.7" font-size="7" text-anchor="end" fill="#2a2a2a" stroke="#2a2a2a" stroke-width="0.08" textLength="10.75" lengthAdjust="spacingAndGlyphs">400</text>
<line x1="278.9" y1="497.34" x2="281.5" y2="497.34" stroke="#231f20" stroke-width="1.1"/>
<text x="276" y="499.72" font-size="7" text-anchor="end" fill="#2a2a2a" stroke="#2a2a2a" stroke-width="0.08" textLength="10.75" lengthAdjust="spacingAndGlyphs">450</text>
<line x1="280.95" y1="578.2" x2="406.4" y2="578.2" stroke="#231f20" stroke-width="1.1"/>
<line x1="281.5" y1="578.2" x2="281.5" y2="580.8" stroke="#231f20" stroke-width="1.1"/>
<line x1="322.3" y1="578.2" x2="322.3" y2="580.8" stroke="#231f20" stroke-width="1.1"/>
<line x1="363.5" y1="578.2" x2="363.5" y2="580.8" stroke="#231f20" stroke-width="1.1"/>
<line x1="406.4" y1="578.2" x2="406.4" y2="580.8" stroke="#231f20" stroke-width="1.1"/>
<rect x="284.8" y="509.6" width="7" height="68.6" fill="#5c3a17"/>
<rect x="298" y="527.8" width="7.2" height="50.4" fill="#c9c9ce"/>
<rect x="311.9" y="524.9" width="7.2" height="53.3" fill="#e9b71f"/>
<rect x="325.7" y="547.4" width="7.2" height="30.8" fill="#5c3a17"/>
<rect x="338.6" y="574.8" width="7.5" height="3.4" fill="#c9c9ce"/>
<rect x="352.8" y="572.4" width="7.2" height="5.8" fill="#e9b71f"/>
<rect x="367" y="532.1" width="7.2" height="46.1" fill="#5c3a17"/>
<rect x="380" y="571.3" width="7.5" height="6.9" fill="#c9c9ce"/>
<rect x="394.4" y="570.9" width="7.2" height="7.3" fill="#e9b71f"/>
<line x1="288.3" y1="504.7" x2="288.3" y2="515" stroke="#111" stroke-width="1"/>
<line x1="287.4" y1="504.7" x2="289.2" y2="504.7" stroke="#111" stroke-width="1"/>
<line x1="287.4" y1="515" x2="289.2" y2="515" stroke="#111" stroke-width="1"/>
<line x1="301.6" y1="522.9" x2="301.6" y2="532" stroke="#111" stroke-width="1"/>
<line x1="300.7" y1="522.9" x2="302.5" y2="522.9" stroke="#111" stroke-width="1"/>
<line x1="300.7" y1="532" x2="302.5" y2="532" stroke="#111" stroke-width="1"/>
<line x1="315.5" y1="521.5" x2="315.5" y2="528.5" stroke="#111" stroke-width="1"/>
<line x1="314.6" y1="521.5" x2="316.4" y2="521.5" stroke="#111" stroke-width="1"/>
<line x1="314.6" y1="528.5" x2="316.4" y2="528.5" stroke="#111" stroke-width="1"/>
<line x1="329.3" y1="537.3" x2="329.3" y2="557.5" stroke="#111" stroke-width="1"/>
<line x1="328.4" y1="537.3" x2="330.2" y2="537.3" stroke="#111" stroke-width="1"/>
<line x1="328.4" y1="557.5" x2="330.2" y2="557.5" stroke="#111" stroke-width="1"/>
<line x1="342.35" y1="573.5" x2="342.35" y2="576" stroke="#111" stroke-width="1"/>
<line x1="341.45" y1="573.5" x2="343.25" y2="573.5" stroke="#111" stroke-width="1"/>
<line x1="341.45" y1="576" x2="343.25" y2="576" stroke="#111" stroke-width="1"/>
<line x1="356.4" y1="570" x2="356.4" y2="575" stroke="#111" stroke-width="1"/>
<line x1="355.5" y1="570" x2="357.3" y2="570" stroke="#111" stroke-width="1"/>
<line x1="355.5" y1="575" x2="357.3" y2="575" stroke="#111" stroke-width="1"/>
<line x1="370.6" y1="524.2" x2="370.6" y2="539.8" stroke="#111" stroke-width="1"/>
<line x1="369.7" y1="524.2" x2="371.5" y2="524.2" stroke="#111" stroke-width="1"/>
<line x1="369.7" y1="539.8" x2="371.5" y2="539.8" stroke="#111" stroke-width="1"/>
<line x1="383.75" y1="568.8" x2="383.75" y2="573.8" stroke="#111" stroke-width="1"/>
<line x1="382.85" y1="568.8" x2="384.65" y2="568.8" stroke="#111" stroke-width="1"/>
<line x1="382.85" y1="573.8" x2="384.65" y2="573.8" stroke="#111" stroke-width="1"/>
<line x1="398" y1="568.4" x2="398" y2="573.4" stroke="#111" stroke-width="1"/>
<line x1="397.1" y1="568.4" x2="398.9" y2="568.4" stroke="#111" stroke-width="1"/>
<line x1="397.1" y1="573.4" x2="398.9" y2="573.4" stroke="#111" stroke-width="1"/>
<path d="M291.3 579.2 L291.3 582.7 L314.4 582.7 L314.4 579.2" stroke="#444" stroke-width="1" fill="none"/>
<line x1="294.7" y1="579.6" x2="294.7" y2="582.7" stroke="#444" stroke-width="0.8"/>
<line x1="311" y1="579.6" x2="311" y2="582.7" stroke="#444" stroke-width="0.8"/>
<line x1="301.95" y1="582.7" x2="301.95" y2="586" stroke="#444" stroke-width="1"/>
<path d="M332.4 579.2 L332.4 582.7 L355.3 582.7 L355.3 579.2" stroke="#444" stroke-width="1" fill="none"/>
<line x1="335.8" y1="579.6" x2="335.8" y2="582.7" stroke="#444" stroke-width="0.8"/>
<line x1="351.9" y1="579.6" x2="351.9" y2="582.7" stroke="#444" stroke-width="0.8"/>
<line x1="342.85" y1="582.7" x2="342.85" y2="586" stroke="#444" stroke-width="1"/>
<path d="M373.7 579.2 L373.7 582.7 L396.9 582.7 L396.9 579.2" stroke="#444" stroke-width="1" fill="none"/>
<line x1="377.1" y1="579.6" x2="377.1" y2="582.7" stroke="#444" stroke-width="0.8"/>
<line x1="393.5" y1="579.6" x2="393.5" y2="582.7" stroke="#444" stroke-width="0.8"/>
<line x1="384.3" y1="582.7" x2="384.3" y2="586" stroke="#444" stroke-width="1"/>
<path d="M289 506.5 L289 505.6 Q289 504.7 289.9 504.7 L302 504.7 Q302.9 504.7 302.9 505.6 L302.9 506.5" stroke="#333" stroke-width="1" fill="none"/>
<line x1="296.2" y1="504.7" x2="296.2" y2="502.9" stroke="#333" stroke-width="1"/>
<text x="296.5" y="501.9" font-size="7.3" text-anchor="middle" fill="#222" stroke="#222" stroke-width="0.18" letter-spacing="0.6">**</text>
<line x1="296.2" y1="509.6" x2="315.6" y2="509.6" stroke="#333" stroke-width="1.1"/>
<path d="M330.9 537.4 L330.9 536.5 Q330.9 535.6 331.8 535.6 L342.4 535.6 Q343.3 535.6 343.3 536.5 L343.3 537.4" stroke="#333" stroke-width="1" fill="none"/>
<line x1="337.5" y1="535.6" x2="337.5" y2="533.8" stroke="#333" stroke-width="1"/>
<text x="337.8" y="532.8" font-size="7.3" text-anchor="middle" fill="#222" stroke="#222" stroke-width="0.18" letter-spacing="0.6">**</text>
<line x1="338" y1="540.2" x2="356.8" y2="540.2" stroke="#333" stroke-width="1.1"/>
<path d="M370 529.8 L370 528.9 Q370 528 370.9 528 L383.1 528 Q384 528 384 528.9 L384 529.8" stroke="#333" stroke-width="1" fill="none"/>
<line x1="377.3" y1="528" x2="377.3" y2="526.2" stroke="#333" stroke-width="1"/>
<text x="377.6" y="525.7" font-size="7.3" text-anchor="middle" fill="#222" stroke="#222" stroke-width="0.18" letter-spacing="0.6">**</text>
<line x1="378" y1="533.6" x2="397" y2="533.6" stroke="#333" stroke-width="1.1"/>
<text x="342.4" y="569.5" font-size="6.4" text-anchor="middle" font-style="italic" fill="#333" stroke="#333" stroke-width="0.1">##</text>
<text x="356.6" y="568.4" font-size="6.4" text-anchor="middle" font-style="italic" fill="#333" stroke="#333" stroke-width="0.1">##</text>
<text x="383.6" y="565.2" font-size="6.4" text-anchor="middle" font-style="italic" fill="#333" stroke="#333" stroke-width="0.1">##</text>
<text x="397.4" y="566.1" font-size="6.4" text-anchor="middle" font-style="italic" fill="#333" stroke="#333" stroke-width="0.1">##</text>
<text x="302.8" y="593.8" font-size="6.7" text-anchor="middle" font-style="italic" stroke="#231f20" stroke-width="0.12" textLength="8.2" lengthAdjust="spacingAndGlyphs">EV</text>
<text x="343.1" y="593.8" font-size="6.7" text-anchor="middle" font-style="italic" stroke="#231f20" stroke-width="0.12" textLength="20.8" lengthAdjust="spacingAndGlyphs">Cebp&#945;</text>
<text x="384.3" y="593.8" font-size="6.7" text-anchor="middle" font-style="italic" stroke="#231f20" stroke-width="0.12" textLength="20.2" lengthAdjust="spacingAndGlyphs">Cebp&#948;</text>
<line x1="299.6" y1="598.2" x2="386.2" y2="598.2" stroke="#444" stroke-width="1.3"/>
<text x="344.8" y="606.9" font-size="6.8" text-anchor="middle" font-style="italic" stroke="#231f20" stroke-width="0.12" textLength="12.7" lengthAdjust="spacingAndGlyphs">Myc</text>
<rect x="296.7" y="614.55" width="2.9" height="2.9" fill="#5c3a17"/>
<text x="303" y="618.3" font-size="6.6" stroke="#231f20" stroke-width="0.12" textLength="11" lengthAdjust="spacingAndGlyphs">Veh</text>
<rect x="323.7" y="614.55" width="2.9" height="2.9" fill="#c9c9ce"/>
<text x="329.4" y="618.3" font-size="6.6" stroke="#231f20" stroke-width="0.12" textLength="13.5" lengthAdjust="spacingAndGlyphs">DNR</text>
<rect x="355.4" y="614.55" width="2.9" height="2.9" fill="#e9b71f"/>
<text x="361.2" y="618.3" font-size="6.6" stroke="#231f20" stroke-width="0.12" textLength="16.9" lengthAdjust="spacingAndGlyphs">Ara-C</text>
<rect x="0.5" y="0.5" width="519" height="626" fill="none" stroke="#000" stroke-width="1.2"/>
</svg>
</body></html>
